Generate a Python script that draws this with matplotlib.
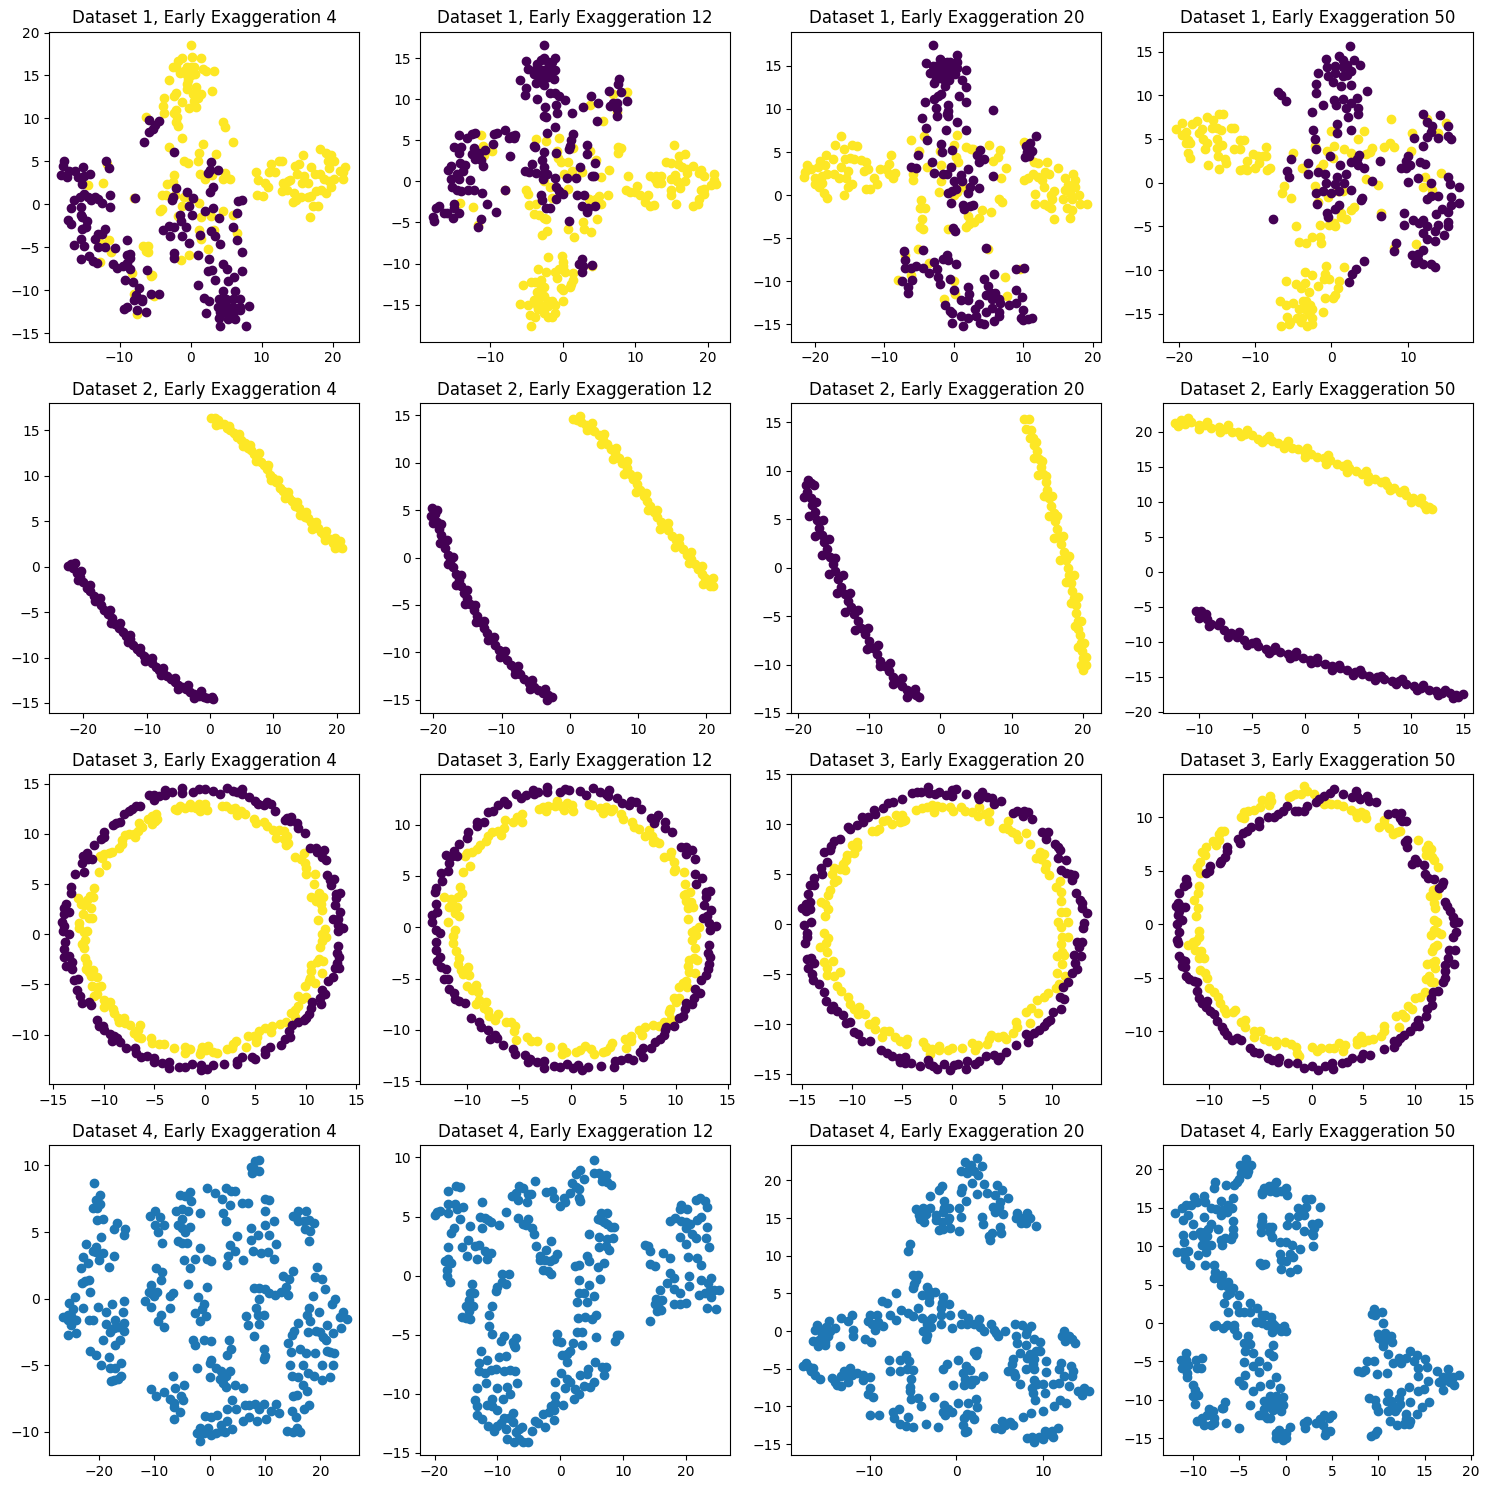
import matplotlib
matplotlib.use("Agg")
import matplotlib.pyplot as plt

exaggerations = [4, 12, 20, 50]
dark = "#440154"
yellow = "#fde725"

# t-SNE embeddings, dataset 1 (two noisy classes)
d1_e4_dark = [(-17.9,5),(-18,4.5),(-18.2,3.4),(-17.4,3.2),(-17.1,3.9),(-16.3,3.9),(-15.9,3.2),(-15,3.3),(-15.3,2.4),(-15.1,4.4),(-14.2,3.5),(-11.9,5.1),(-11.5,4.2),(-11.3,1.1),(-16.4,0.5),(-15.6,0.8),(-15,1.2),(-14.5,0.8),(-14,0.5),(-13.5,0.8),(-13,0.6),(-12.5,0.1),(-11.4,-0.3),(-16.9,-0.4),(-15.5,-0.3),(-15.4,-1.2),(-15.3,-1.5),(-14.6,-1.9),(-17.2,-1.8),(-16.8,-2.3),(-15.3,-2.9),(-14.8,-2.6),(-12,-2.9),(-13,-3.4),(-12.5,-3.5),(-13.5,-4),(-15.5,-4),(-16.4,-4.7),(-15,-4.8),(-13,-5),(-12,-5),(-10.6,-5.1),(-15.5,-6.4),(-14.3,-6),(-13.7,-6.6),(-13.2,-6.8),(-11,-6.9),(-10.3,-7.4),(-9.5,-7.2),(-8.9,-6.8),(-8.5,-7.5),(-8.9,-5.9),(-8.5,-5.8),(-8.6,-6.3),(-9,-4.1),(-9.3,-8.8),(-8.1,-9),(-7.3,-9.7),(-7.7,-10.6),(-8,-11.2),(-6.9,-11),(-6.8,-11.3),(-5.6,-10.5),(-4.5,-10.4),(-9.4,-12.2),(-9,-12),(-7.6,-12.3),(-6.3,-12.5),(-6.2,-7.7),(-7.9,0.7),(-6.5,7.3),(-5.9,8.4),(-5.3,8.8),(-5,9.2),(-4.5,9.7),(-5.9,9.8),(-2.3,6.1),(2.8,4.9),(2.7,4),(2.5,3.7),(3.8,4),(3.2,2),(2.7,1.4),(-2,1.9),(-2.5,0.9),(-2.6,0.5),(-0.5,1.4),(0.4,0.7),(-0.2,-0.2),(0.2,-1.2),(2,-0.8),(3.2,-0.4),(4,-1.6),(6.5,-1),(6.7,0.4),(7.2,0.5),(-1.5,-1.2),(-1.3,-2),(-0.7,-2.7),(-3.9,-3),(-3.1,-2.5),(-2.4,-2.6),(-2.9,-3.7),(-1.2,-3.7),(1.3,-3.6),(2.8,-3.1),(3.4,-3.7),(4.1,-4.6),(5.9,-2.7),(6.5,-4.2),(-0.2,-4.5),(7.2,-5.6),(1,-5.9),(2.6,-6.4),(-2.3,-5.7),(-2.3,-6.3),(4.5,-7),(5.1,-7.5),(2.5,-7.8),(3,-7.7),(3.5,-8.8),(5.3,-8.9),(6.1,-8.5),(7.3,-7.8),(1,-9.4),(1.9,-10.9),(2.6,-11.3),(2.1,-12.7),(4.6,-10.1),(6.3,-10.1),(4,-11),(5,-11),(6,-11),(7,-11),(3.8,-12),(4.5,-11.7),(5.2,-12),(6,-12),(7,-12),(8.2,-11.9),(4.2,-12.5),(5,-12.7),(6,-12.8),(7,-12.3),(4,-13.2),(5.3,-13.4),(6.2,-13.4),(4.2,-14.2),(7.8,-14.2)]
d1_e4_yellow = [(0.1,18.5),(-2,16),(-1.8,16.7),(-2.5,16),(-1.2,17),(0.2,17.2),(1.4,17),(-0.5,16),(0,16),(0.5,16),(-1,15.5),(-1.5,15.3),(-0.5,15),(0,15),(0.6,15.2),(1.7,15.7),(2.2,15.5),(3.3,15.5),(-3.1,14.5),(-0.5,14),(-0.3,14.5),(0.3,15.5),(-0.5,13.4),(0.7,13.7),(3,13.2),(1.5,12.9),(0.3,12.8),(-2,13),(-2.4,12.6),(-3.7,12.4),(0.5,12),(1,12.4),(-1.2,11.9),(-3.9,11.5),(-0.2,11.2),(0.8,11.3),(-2,11),(-3.8,10.6),(-2.3,10.6),(-1.9,10.2),(-2.1,9.6),(-1.8,9.1),(-6.3,10.2),(4.5,9.6),(4.8,9),(5.9,7.3),(-1.2,7.7),(1.8,7),(1.2,6),(-3,6.7),(3.6,5.8),(-1,5),(-0.4,4.8),(1,5.1),(1.3,3.5),(2,3),(3,3.4),(4.8,3.6),(5,3.2),(4.6,3),(5.6,2.9),(-3.3,2.4),(-2.5,2.6),(-2.3,3.4),(-4,1.1),(-3.5,1.1),(-2.2,1.1),(-4.1,-0.5),(-4.3,-0.8),(-0.9,0.9),(0,0.6),(1.2,0.2),(-1.2,-0.2),(-1.8,-1.4),(1.5,-1.5),(2.8,-1.4),(4.5,-0.8),(5.9,-1.2),(1.2,-3),(3.3,-3),(6.5,-3.3),(1.4,-4),(2.5,-5.2),(-0.2,-5.9),(-1.3,-6.5),(-6.7,-4.9),(-6,-4.9),(-6.3,-5.4),(-6,-5.6),(-5.5,-8.2),(-5.6,-8.3),(-8.3,-8),(-8,-10.5),(-5.1,-10.7),(-7.5,-12.8),(-12.7,-6.7),(-13,-4.3),(-11.5,-4.2),(-11.2,-5.5),(-12.3,-4.6),(-14.4,2.2),(-12.3,2.5),(-11.8,4.7),(-8,0.7),(16.8,-1.5),(9.2,3.8),(9.5,2.8),(11.3,4.7),(11,3.8),(11.9,3.8),(12.5,5.1),(12.9,5.1),(10.5,2.5),(10.9,2),(13,2.5),(13.7,2.7),(14,2.8),(9.3,1.1),(10.2,1),(12.9,1.5),(13.5,1.7),(14.6,1.3),(14.4,0.3),(14.8,0.5),(15.5,0.8),(16.5,0.8),(17.2,-0.2),(18,-0.2),(17.6,1.5),(18.3,1.7),(19,1.3),(17,1),(14.7,4.5),(15.3,4.7),(15.8,5.7),(15,3.5),(16,3.3),(16.5,2.5),(15.7,2.5),(17,4.3),(17.5,3.5),(18.2,3.5),(18.2,6.4),(19,6),(19.7,5.7),(19.3,5),(20.2,5),(19.5,4.2),(18.8,3),(19.5,2.7),(20.2,2.9),(19.8,2),(21,3.9),(21.7,4.4),(21.5,3.8),(21.5,3)]

d1_e12_dark = [(-2.5,16.6),(-5,14.6),(-4.8,13.7),(-3.5,14.3),(-3,14.8),(-2.5,15),(-2,14.5),(-1.5,14.5),(-1,15),(-3.8,13.5),(-3,13.5),(-2.5,13.5),(-2,13.5),(-1.5,13.5),(-1,13.5),(-4,13),(-3.3,12.7),(-2.5,12.5),(-2,12.7),(-1.2,12.5),(-5.9,12.3),(-3.7,12),(-2.5,11.7),(-5,11.4),(-5.2,10.5),(-3.5,10),(-1.7,10.7),(-1,10.8),(-0.5,10.4),(0.4,9.9),(-2.4,9),(-0.9,9.3),(-2.5,8),(-2.3,7.8),(-0.8,8.3),(1.3,8.3),(2.8,9.1),(3.9,10.4),(4.9,9.5),(6.4,11),(6.5,9.2),(7,9.5),(7.5,9.5),(7.7,11.9),(7.8,12.4),(8.1,10.9),(7.5,8.8),(7.5,7.9),(8.9,9.8),(4.8,7.4),(-1,6.6),(-2.2,5.9),(1.4,5.8),(1.1,5),(1,4.3),(0.9,3.9),(-4,4.3),(-3.8,4.2),(-2.5,3.6),(-0.9,3.4),(3.4,4.4),(3.3,3.3),(4.5,2.2),(-2.9,2.6),(-4.2,2.1),(-5.2,1.2),(-4.6,1.1),(-3.7,1),(-2.5,1),(-2.5,1.8),(-2.2,0.9),(-2.7,0.3),(-1,0.4),(0.6,0.4),(1.8,0.4),(2.4,1.8),(4.3,0.7),(4.1,0.7),(-0.9,-0.7),(-0.5,-1.2),(0,-1.5),(-3,-1.7),(-2.8,-2.3),(-2.3,-3.2),(-1.8,-3.2),(-0.9,-2.2),(2,-1.7),(2.9,-1.7),(2.7,-3),(3.4,-3.7),(4.4,-3),(0.9,-4.8),(3.5,-3.2),(-15.4,0.3),(-15.8,1.4),(-15.4,1.9),(-14.2,2.2),(-13.5,2),(-13.7,1.3),(-14.5,0.9),(-14.3,0.3),(-12.7,0.2),(-15.2,-0.7),(-14.5,-1.1),(-14,-1.2),(-13,-1),(-12.2,-1),(-11.1,-1.4),(-10.4,-2.7),(-9.2,-3.7),(-14.3,-3.8),(-15,-2.7),(-15,-3.3),(-15.9,-3.9),(-16.4,-3.8),(-17,-3),(-17.5,-3.3),(-17.8,-4.3),(-17.7,-4.8),(-15.1,-4.5),(-11.3,-4.6),(-11.6,-5.5),(-15,4.2),(-14.3,5.6),(-13.2,5.3),(-12.5,5.7),(-12,5.9),(-14,4.2),(-14.3,3.4),(-12.5,3.3),(-12.2,4),(-11.5,3.5),(-10.7,3.8),(-12,2.7),(-11.3,2.6),(-11,1.9),(-9.6,4.5),(-9.5,5.8),(-9,5.9),(-7.9,6.3),(-7,5.5),(-6.7,5.3),(-6.6,5.6),(-7.4,5.3),(-7.3,3.1),(-7.9,-1.1),(2.7,-9.5),(2.2,-10),(2.8,-10.3),(2.7,-11),(4,-10.2)]
d1_e12_yellow = [(-11.3,5.6),(-11,4.3),(-9.7,3.7),(-10.8,3.2),(-14.2,-2.6),(-12.4,-3.1),(-11.6,-5.3),(-7.9,-1),(3.8,9.3),(7,10.6),(8.9,10.9),(7.5,8.4),(5.5,7.3),(-3.6,5.2),(-2.3,4.9),(-0.5,5.3),(1.4,4),(3.8,3.7),(-0.8,3.7),(-0.7,2.9),(-0.2,2.3),(0.7,2.3),(4.6,2.6),(0.2,0.9),(1.3,1.3),(2.7,1.1),(6.4,1.4),(5.3,0.5),(-2.5,0.1),(-1.8,-0.7),(0.7,-0.9),(5,-1.8),(4.6,-2.2),(6.2,-1.7),(5.3,-2.7),(3.6,-2.2),(-1.4,-2),(-5,-1),(-4.7,-1.5),(-4.6,-2.9),(-3.7,-2.8),(-4,-4),(-3.3,-4.1),(-2.5,-4.4),(-2.3,-4.6),(4.8,-4.6),(2.8,-5),(3,-5.8),(3.9,-6.2),(0.7,-5.8),(-2.8,-6.5),(-2.2,-6),(1.6,-6.8),(7.6,4.2),(8,4),(7.7,3.4),(15.3,4.4),(9,0.7),(8.7,-1),(9.3,-1.3),(10.3,-0.6),(10,-1.3),(10.7,-1.7),(11.8,-1.7),(11.4,-2.5),(12.6,-2.9),(12,-3),(12.1,0.7),(12.7,0.3),(12.9,0.7),(13.6,0.7),(13,-0.2),(13.5,-0.2),(14.3,2.4),(15,2.2),(15.9,2.1),(16,3.1),(16.8,3.3),(16.4,1.8),(17.2,1.5),(18,1.9),(17.1,1),(15,0.3),(15.5,0.8),(15.7,0),(16.9,0),(16.2,-0.8),(14.9,-1.7),(15.6,-2.8),(15,-1),(18.8,1),(19.1,1.4),(19.5,0.7),(20.8,0.9),(20.8,0.2),(21.1,-0.3),(20.4,-0.4),(19,-1.1),(19.5,-1.5),(18.8,-2.2),(18,-3),(18.6,-2.7),(19.5,-0.9),(-2,-9.2),(-0.1,-9.1),(0,-9.8),(0,-10.3),(-0.5,-10.7),(-3.4,-10.7),(-2.3,-11),(1.5,-11.2),(1.5,-12),(1.2,-12.5),(-0.8,-11.8),(-5.5,-12.6),(-4.4,-12.3),(-3.8,-12.2),(-3,-12),(-3,-13),(-2.5,-12.8),(-0.2,-13),(0,-13.2),(1,-12.9),(-3.5,-13.5),(-5.8,-14.9),(-4.7,-15),(-4,-14.4),(-3.5,-14.5),(-3,-14),(-2.5,-14),(-2,-14.5),(-1.5,-14.5),(-1,-15),(0.1,-14.5),(-3.5,-15),(-3,-15),(-2.5,-15.5),(-2,-15.2),(-4.5,-16.2),(-3.8,-16.5),(-3.4,-15.5),(-2.5,-16),(-2,-16.5),(-1.5,-16.5),(-1,-16),(-4.4,-17.6),(4,-10.3),(0.3,-11),(-1,-11)]

d1_e20_dark = [(-3,17.4),(0.4,16.3),(-4,15.3),(-2,15.8),(-1.5,15.5),(-1,15.5),(-0.5,15.5),(0.4,15.5),(-3,15),(-2.5,15),(-2,15),(-1.5,15),(-1,15),(-0.5,15),(0.5,14.8),(1.8,14.5),(-3.4,14.2),(-2.6,14),(-2,14.2),(-1,14.2),(-0.3,14),(0.2,14),(-2.5,13.5),(-1.5,13.5),(-0.7,13.4),(1.2,13.3),(1.8,12.6),(-2.8,13),(-1.3,12.7),(0.7,11.5),(-1.8,11.7),(-2.3,11.5),(-2.8,11.2),(-4.1,10.8),(-2.6,10.1),(-0.9,10.5),(-0.9,9.8),(-2.4,9.2),(-1,9.4),(-0.8,9.2),(-4.6,9),(-4,7.8),(0.5,8.5),(1.8,10.8),(5.6,9.9),(-1.1,7.6),(1.8,7.6),(-3.8,6.4),(-1.9,5.9),(-1.7,5),(-0.2,5.2),(-5.1,4.6),(-3.1,3.8),(-2.9,2.6),(-6.1,3.3),(-5.5,3.1),(-0.4,3.3),(-1.6,2.5),(-1,2.4),(1,2.3),(2,3),(1.2,1.6),(0,1.6),(2.7,1.7),(2.3,1),(3.7,0.8),(-0.3,0.5),(-0.8,0.2),(0.3,0.7),(2,0.3),(-0.4,-0.9),(1.3,-1.2),(1.5,-1.6),(2.3,-1.3),(2.8,-1.2),(3.8,5.2),(3.4,4.7),(4.3,4.2),(3.7,3.9),(5.6,2.2),(-0.1,-3.8),(0.2,-4.2),(10.4,5.7),(11,6),(11.9,6.9),(10.6,5),(11.2,5.1),(10.3,4.4),(10.9,4.5),(4.7,-6.1),(-7.2,-6.5),(-7,-7.5),(-4.4,-6.4),(-7,-8.4),(-6.2,-8.5),(-5.5,-8.2),(-4.5,-8.4),(-3.6,-9),(-2.4,-8.6),(-2.8,-7.7),(-1.5,-7.4),(-1,-7),(-0.9,-7.5),(0.3,-8),(-2.3,-9.5),(-2,-10.3),(-0.6,-9.7),(-7.4,-10),(-6,-9.8),(-6.6,-10.7),(-6.6,-11.4),(0,-11),(2,-10.7),(2.2,-11.5),(2,-12.2),(1,-12.2),(4.3,-9.7),(5.8,-9.2),(9,-8.6),(10.1,-8.5),(4.9,-10.5),(5.3,-11.3),(4.6,-11.6),(6,-11.3),(5.5,-12),(6.5,-12),(6.7,-12.5),(8.9,-11),(9.9,-11.8),(8,-12.7),(9,-12.5),(-1.3,-12.7),(-0.6,-13.4),(-0.3,-13.7),(1.1,-14),(2,-14.2),(3.2,-14),(3,-13.2),(3.7,-12.6),(4.6,-13.5),(5.5,-13.1),(6.5,-13.5),(6.5,-14),(10,-13.3),(9.7,-14.3),(10,-14.5),(10.7,-14.4),(11.2,-14.2),(-0.3,-14.8),(1.4,-15.2),(3.8,-14.8),(4.4,-14.9),(5.8,-14.6)]
d1_e20_yellow = [(-16.2,6.9),(-17.1,5.8),(-15.8,5.3),(-14.7,5.8),(-14,5.7),(-18.4,4.7),(-19.3,4),(-21.1,3.5),(-21.4,2.7),(-21.5,2.1),(-20.5,3),(-19.5,3.3),(-18.5,3.5),(-18.2,2.5),(-19,2.2),(-20,2),(-20,1.3),(-19.4,1),(-19,1.4),(-18.7,0.3),(-18.2,-0.3),(-17.3,2.5),(-16.5,2),(-16.3,3.3),(-17.4,4.2),(-15.7,4.2),(-15,4.3),(-14.3,4.2),(-13.3,4.1),(-12.7,3.9),(-13,2.8),(-12.3,3),(-15.3,2.8),(-15.5,2),(-15.2,1),(-14.6,1.3),(-15.8,0),(-12.6,0.7),(-12,0.7),(-11.5,2),(-11,1.3),(-10.6,3),(-9.7,3),(-9.3,3.6),(-9,4.7),(-9.3,2.5),(-8.8,2),(-8.4,2.6),(-6.2,6.4),(-4.3,6.9),(-5,5.1),(-5.8,2.5),(-5.8,1.8),(-3.8,3.3),(-2,5.1),(0.1,5.8),(0.5,7),(-1.8,3.5),(-1.9,1.6),(-2.1,0.4),(0.3,4.4),(0.6,3.9),(1.8,5.6),(2.5,5.3),(2.8,5.4),(5.1,5.8),(6.7,5.2),(6.3,4.4),(5.7,4),(7.5,3.1),(6.8,2),(1.3,1),(0.5,0.4),(0,0),(-4.7,-0.6),(-4.9,-1.5),(-4.1,-1.5),(-4.6,-2.8),(-4.9,-3.7),(-4.4,-3.9),(-0.9,-3.9),(1.7,-3.7),(2.2,-3.3),(2,-2.4),(2.9,-3.1),(3.7,-2.6),(4,-1.7),(5.4,-1.9),(6.5,-0.5),(6.9,-0.8),(-5.2,-6.2),(-7,-7),(-3.5,-7.9),(-6.2,-9.3),(-8,-9.9),(5,-6.2),(0,-10),(0.2,-11.5),(-1.4,-12),(7.4,-9.5),(7.7,-11.7),(9.5,-8.6),(10.1,6.2),(11.6,3.8),(12.2,3.7),(13.4,3.8),(13.2,2.7),(13.7,2.4),(15,3.1),(10.1,1.7),(10.7,2),(11.4,2.4),(12.2,2.1),(12.7,1.7),(13,1),(11.7,0.1),(11.7,-1),(13,-1),(14,0),(14.5,0.5),(14.2,-0.5),(13.6,-1.3),(14,-1.5),(14.4,-2.8),(16,2),(17.2,2.5),(17.5,1.7),(16.5,1.2),(17.5,1),(16,0.6),(16.7,0.2),(18,0),(15.7,-0.5),(17,-0.5),(18.2,-1),(16.3,-1.5),(17,-1.7),(19.2,-1),(16.7,-2.7)]

d1_e50_dark = [(2.4,15.7),(-0.7,14.1),(1,14.5),(1.5,14),(3,14),(3.7,13.5),(-0.6,13.2),(0.5,13.3),(1.5,13.2),(2,13.5),(2.5,12.8),(-1.7,12.5),(-0.5,12.2),(0.5,12.5),(1.5,12.2),(2,12.3),(0.2,11.5),(1.3,11.1),(2.5,11.2),(-2,11.3),(-2,10.3),(4.6,10.5),(-7,10.4),(-6.6,10),(-6,9.4),(0.3,9.5),(0.6,8.9),(1.5,9.6),(3.4,9.7),(2.6,9.1),(-1.1,8.9),(1.9,8.5),(3.5,8.5),(3.5,7.9),(2.2,7.5),(-2.6,8.1),(0.7,6.7),(0.7,5.7),(2.5,6),(-2.4,6),(-2.2,5),(-2,3.9),(-5.3,2.7),(-3.1,2.2),(3.6,3.2),(3.3,2.7),(2.5,2.4),(3.5,2),(4.3,1.7),(6.3,2.5),(1.1,2),(-0.2,3),(-5.8,1.3),(-5.6,0.7),(-3.1,1),(-1.7,1.2),(-0.9,1),(-0.7,0),(0.7,0.6),(0.5,-0.2),(1.9,1),(1.6,0),(-1.1,-1),(-2,-1.2),(0,-1.2),(1,-0.9),(2.5,-0.8),(-1.9,-2.4),(0.5,-3),(1,-2.6),(-0.6,-3.5),(-0.5,-3.9),(3.9,-2),(4,-1.8),(5.3,0.2),(6.5,-3.8),(-7.7,-4.2),(4.2,-9),(3.2,-9.9),(2.7,-10.4),(2.3,-11.4),(12,7.9),(14.2,7.7),(12.5,6.9),(13.2,6.5),(15.2,6.5),(13,5.8),(12.5,5.2),(14,5.1),(15.3,5.3),(15.7,5),(10.8,5.1),(12,4.2),(9.7,2.5),(10,3),(9.1,1.7),(9.7,1.7),(10.3,2),(11.6,2.4),(12.3,2.1),(11.3,0.5),(10,0.1),(13,0),(15.2,0.7),(15.5,-0.2),(16.7,-0.5),(12.5,-1.9),(13,-1.5),(14,-1.5),(15.6,-1.6),(16.7,-2.3),(15.6,-2.5),(14.5,-3),(15.2,-3.4),(13.7,-3.6),(9.5,-3.5),(9.5,-4.9),(10.7,-4.3),(12,-4.3),(11.5,-4.6),(12.5,-5),(14,-4.8),(15.3,-4.5),(15.3,-5),(13.5,-5.5),(12,-5.8),(12.5,-6.4),(13.5,-6.7),(14.7,-6),(8.4,-6.9),(8.2,-7.8),(10.5,-8.3),(11.4,-8.2),(12,-7.7),(11,-9.2),(12,-9.3),(13.1,-9.3),(13.6,-9.6),(11.3,-8.8)]
d1_e50_yellow = [(-20.3,6.2),(-19.6,6.8),(-19.6,5.5),(-19,5.8),(-18.2,6.7),(-17.6,7.1),(-17,6.2),(-16.3,7.5),(-15.5,7.2),(-14.7,7.9),(-14.2,7.9),(-15.7,6.3),(-15,6.3),(-14.5,6),(-13.2,6.3),(-12.8,6.3),(-17.3,5.7),(-16.8,5),(-18.8,4.9),(-19,4.5),(-18.5,4.5),(-16.3,4.5),(-16.5,3.8),(-15,5),(-15,4),(-14.3,4.3),(-14.8,3),(-14,2.7),(-13.8,2.3),(-18.8,3.4),(-18.5,2.8),(-16.2,2),(-14.7,1.6),(-12.8,3.9),(-12,3.8),(-12,4.9),(-11.4,4.9),(-11,2.5),(-10.3,3.3),(-9.6,3),(-9,3),(-9.5,2.2),(-8.6,3),(-8.6,4.1),(-12,1.5),(-11.4,1.6),(-11,1.5),(-10,1.7),(-8.5,1.5),(-8,1.7),(-5,3.4),(-1.1,2.1),(-1.5,1.7),(-3.9,1.7),(-2.1,4.2),(-6.5,-1.2),(-6.2,-0.4),(-5.3,-1.8),(-2.2,-0.4),(-1.8,-2.2),(-0.4,-1.6),(-4.6,-5),(-1.5,-4.9),(-0.3,-4.8),(0.5,-5),(0.3,-4.6),(1.2,-3.9),(1.9,-4.2),(1.2,-3.5),(2.5,-3.1),(3,-2.8),(-4.3,-6.8),(-3.3,-6.9),(-2.6,-6.2),(-1.5,-6.2),(-1.4,-6.9),(-0.6,3.6),(0,5.9),(0.4,4.2),(0.2,2.8),(1.7,3.8),(2.5,3.4),(3.5,5),(4.2,5.9),(4.5,3.3),(5,3.5),(5.3,4),(6.9,4.1),(7.7,4.5),(8.2,4.1),(7.8,7.3),(10.6,5.7),(10.4,3.6),(4.5,0.4),(6.1,-0.3),(6.5,-3.5),(0.9,-1),(1.5,-0.9),(12.5,7.3),(15,6.8),(13.9,5.7),(12.2,0.7),(14.3,1.1),(12,-0.5),(13.2,-0.8),(11.1,-7),(8.2,-7.5),(1.6,-9.7),(-0.7,-9.5),(-0.8,-10.5),(-3.5,-10.2),(-2.5,-10.6),(-1,-11),(-0.3,-11),(-6,-11.3),(-4.6,-11.6),(-4,-12),(-3.5,-11.5),(-3,-12.5),(-1.8,-11.8),(1,-11.3),(0.8,-12),(0.5,-12.8),(-0.8,-13.2),(0.2,-13.2),(-6.8,-13.5),(-5.9,-14),(-5,-13.8),(-3.7,-13.5),(-3.3,-13.5),(-2.8,-14),(-4.2,-14.5),(-3.5,-14.5),(-2.5,-14.5),(-1.1,-14.8),(-5.8,-15.4),(-5.4,-16),(-4.5,-15.5),(-3.8,-15.5),(-3,-15),(-2.5,-15.5),(-6.6,-16.4),(-5.5,-16.2),(-4,-16),(-3.2,-16.4),(-2.5,-16.2)]

# dataset 2 (two separated strands)
d2_e4_dark = [(-22.4,0.1),(-22,0.3),(-21.6,-0.2),(-21,-0.7),(-20.5,-1.1),(-20,-1.7),(-19.4,-2.3),(-18.9,-2.7),(-18.4,-3.2),(-17.8,-3.7),(-17.2,-4.2),(-16.7,-4.8),(-16.1,-5.2),(-15.5,-5.7),(-15,-6.3),(-14.4,-6.7),(-13.8,-7.2),(-13.2,-7.6),(-12.7,-8),(-12.1,-8.6),(-11.5,-9.1),(-11,-9.4),(-10.4,-9.8),(-9.8,-10.2),(-9.2,-10.6),(-8.6,-11),(-8,-11.4),(-7.4,-11.7),(-6.8,-12),(-6.2,-12.4),(-5.6,-12.7),(-5,-13),(-4.4,-13.2),(-3.8,-13.5),(-3.1,-13.8),(-2.5,-14),(-1.8,-14.2),(-1,-14.3),(-0.4,-14.5),(0.3,-14.3),(0.4,-14.6),(-21.4,0.4),(-20.4,-0.5),(-19,-2),(-17.4,-3.4),(-15.8,-4.8),(-14.2,-6.2),(-12.6,-7.5),(-11,-8.9),(-9.2,-10.1),(-7.5,-11.1),(-5.5,-12.2),(-3.5,-13),(-1.5,-13.7),(-20.8,-1.5),(-18.2,-3.8),(-15.6,-6.2),(-13,-8.3),(-10.2,-10.4),(-7.8,-11.9),(-5,-13.5),(-2.5,-14.5)]
d2_e4_yellow = [(0.2,16.3),(0.8,16.3),(1.3,16.1),(1.6,15.7),(2.2,15.7),(2.7,15.2),(3.2,15),(3.8,14.7),(4.3,14.3),(4.9,13.9),(5.5,13.6),(6,13.1),(6.5,12.8),(7,12.4),(7.5,12),(8,11.5),(8.5,11.2),(9,10.7),(9.5,10.1),(10,9.7),(10.5,9.3),(11,8.7),(11.5,8.3),(12,8),(12.5,7.5),(13,7.2),(13.5,6.7),(14,6.4),(14.5,5.9),(15,5.5),(15.5,5.3),(16,4.9),(16.5,4.5),(17,4.2),(17.5,3.8),(18,3.5),(18.5,3.2),(19,3),(19.5,2.6),(20,2.6),(20.4,2.2),(20.8,2.1),(20.6,2.8),(1,15.6),(3,15.5),(4.6,14.6),(6.3,13.4),(7.7,12.5),(9.2,11.2),(10.8,9.5),(12.3,8.2),(13.7,7.1),(15.2,6),(16.8,4.9),(18.3,3.9),(19.7,3.1),(5.2,13.3),(7.3,11.6),(9.7,9.5),(11.8,7.6),(14.2,5.7),(16.2,4.1),(18.2,2.9),(19.8,2)]
d2_e12_dark = [(-20.2,5.2),(-20.3,4.4),(-19.8,4.6),(-19.5,3.7),(-19.2,3),(-18.9,2.4),(-18.6,1.7),(-18.3,1),(-17.9,0.3),(-17.5,-0.4),(-17.1,-1),(-16.7,-1.7),(-16.3,-2.4),(-15.9,-3),(-15.5,-3.7),(-15.1,-4.3),(-14.6,-4.9),(-14.1,-5.5),(-13.6,-6.2),(-13.1,-6.8),(-12.6,-7.4),(-12.1,-8),(-11.5,-8.6),(-11,-9.2),(-10.4,-9.8),(-9.8,-10.3),(-9.2,-10.8),(-8.6,-11.3),(-8,-11.8),(-7.3,-12.3),(-6.7,-12.8),(-6,-13.2),(-5.3,-13.7),(-4.6,-14),(-3.9,-14.3),(-3.2,-14.5),(-2.6,-14.7),(-19.4,5),(-18.9,3.5),(-18,1.8),(-17.1,0.1),(-16,-1.8),(-15,-3.4),(-13.9,-5),(-12.6,-6.7),(-11.1,-8.4),(-9.5,-9.9),(-7.6,-11.4),(-5.5,-12.9),(-3.6,-13.9),(-20,3.6),(-19,1.5),(-17.9,-0.7),(-16.7,-2.9),(-15.4,-4.9),(-13.8,-6.8),(-12,-8.7),(-10.2,-10.5),(-8,-12.3),(-5.8,-13.9),(-3.4,-15)]
d2_e12_yellow = [(0.5,14.6),(1.1,14.5),(1.7,14.3),(2.4,14),(3,13.6),(3.6,13.3),(4.2,12.9),(4.8,12.4),(5.4,12),(6,11.4),(6.6,11),(7.2,10.5),(7.7,10),(8.3,9.4),(8.8,8.8),(9.3,8.3),(9.8,7.8),(10.3,7.1),(10.8,6.5),(11.3,6),(11.8,5.4),(12.3,4.8),(12.8,4.3),(13.3,3.8),(13.8,3.3),(14.4,2.9),(14.9,2.3),(15.5,1.9),(16,1.4),(16.6,0.9),(17.2,0.3),(17.8,-0.2),(18.3,-0.7),(18.8,-1.2),(19.3,-1.7),(19.8,-2.2),(20.4,-2.4),(20.9,-2.2),(20.5,-3),(21,-3),(1.5,14.9),(3.3,14.2),(5,13),(6.8,11.6),(8.3,10.2),(9.8,8.6),(11.2,6.8),(12.8,5),(14.4,3.6),(16,2.1),(17.8,0.6),(19.3,-0.9),(2.5,13.4),(4.5,12),(6.3,10.4),(8,8.8),(9.7,6.9),(11.4,5),(13.2,3),(15.4,1.1),(17.4,-0.6),(19.5,-2.8)]
d2_e20_dark = [(-18.5,9),(-18.8,8.5),(-18.2,8.7),(-18.7,7.8),(-18.2,7.2),(-18,6.4),(-17.6,5.7),(-17.3,4.9),(-17,4.1),(-16.6,3.4),(-16.3,2.6),(-15.9,1.9),(-15.5,1.1),(-15.1,0.4),(-14.7,-0.4),(-14.3,-1.2),(-13.9,-2),(-13.4,-2.7),(-13,-3.4),(-12.5,-4.1),(-12.1,-4.8),(-11.6,-5.5),(-11.1,-6.2),(-10.6,-6.9),(-10,-7.6),(-9.5,-8.3),(-8.9,-8.9),(-8.4,-9.6),(-7.8,-10.2),(-7.2,-10.7),(-6.6,-11.3),(-6,-11.8),(-5.4,-12.2),(-4.7,-12.6),(-4,-12.9),(-3.4,-13.1),(-3,-13.4),(-17.7,8.5),(-17.4,6.8),(-16.5,4.9),(-15.6,2.9),(-14.7,1),(-13.7,-0.8),(-12.7,-2.6),(-11.5,-4.4),(-10.2,-6.2),(-8.8,-8),(-7.1,-9.8),(-5.4,-11.4),(-3.6,-12.5),(-19.1,7.3),(-18.4,5.3),(-17.6,3.3),(-16.6,1.3),(-15.6,-0.7),(-14.5,-2.6),(-13.3,-4.6),(-11.9,-6.4),(-10.3,-8.4),(-8.5,-10.2),(-6.6,-12),(-4.7,-13.3)]
d2_e20_yellow = [(11.8,15.3),(12.5,15.3),(12,14.3),(12.7,14.2),(13,13.4),(13.2,12.6),(13.6,12),(13.8,11.2),(14.1,10.4),(14.4,9.6),(14.8,8.8),(15,8),(15.3,7.2),(15.6,6.3),(15.9,5.6),(16.1,4.8),(16.4,4),(16.7,3.2),(17,2.4),(17.3,1.6),(17.6,0.8),(17.9,0),(18.1,-0.8),(18.3,-1.6),(18.5,-2.4),(18.8,-3.1),(19,-3.9),(19.1,-4.7),(19.3,-5.5),(19.4,-6.3),(19.6,-7),(19.8,-7.8),(19.9,-8.6),(20.1,-9.3),(19.8,-10),(20.4,-10),(20.1,-10.6),(12.6,13.4),(13.5,12.9),(14.3,11),(14.9,9.4),(15.7,7.4),(16.4,5.3),(17.2,3.3),(18,1.2),(18.7,-0.8),(19.4,-3),(19.8,-5.5),(20.2,-7.8),(13.1,11.3),(13.7,9.5),(14.5,7.4),(15.2,5.3),(16,3),(16.8,0.8),(17.6,-1.5),(18.4,-3.7),(18.9,-6),(19.4,-8.2),(20.5,-9.2)]
d2_e50_dark = [(-10.3,-5.6),(-9.8,-5.6),(-9.8,-6.3),(-9.2,-6.8),(-8.8,-7.5),(-8.2,-7.7),(-7.6,-8.4),(-7,-8.8),(-6.4,-9.3),(-5.7,-9.8),(-5,-10.2),(-4.4,-10.7),(-3.7,-11),(-3,-11.2),(-2.3,-11.5),(-1.6,-11.8),(-0.9,-12),(-0.2,-12.3),(0.5,-12.6),(1.2,-12.9),(1.9,-13.2),(2.6,-13.5),(3.3,-13.8),(4,-14),(4.7,-14.3),(5.4,-14.6),(6.1,-14.9),(6.8,-15.1),(7.5,-15.3),(8.2,-15.6),(8.9,-15.7),(9.6,-16),(10.3,-16.3),(11,-16.6),(11.7,-16.9),(12.4,-17.1),(13,-17.4),(13.7,-17.3),(14.3,-17.6),(14.9,-17.5),(14.5,-17.9),(-9.3,-6),(-8,-7.2),(-6.2,-8.7),(-4.6,-10),(-2.8,-10.8),(-0.8,-11.5),(1.2,-12.4),(3.2,-13.3),(5.2,-14.1),(7.2,-14.9),(9.2,-15.4),(11.2,-16.2),(13.2,-16.9),(-10,-6.6),(-9,-7.8),(-7.2,-9.3),(-5.4,-10.5),(-3.4,-11.6),(-1.4,-12.3),(0.6,-13.1),(2.6,-14),(4.6,-14.8),(6.6,-15.5),(8.6,-16.1),(10.6,-16.9),(12.6,-17.6),(14,-18)]
d2_e50_yellow = [(-12.2,21.2),(-11.7,21.6),(-11.3,21),(-10.7,21.4),(-10,20.9),(-9.4,20.9),(-8.8,20.5),(-8.1,20.7),(-7.5,20.4),(-6.9,20),(-6.3,20),(-5.6,19.7),(-5,19.5),(-4.4,19),(-3.7,18.9),(-3.1,18.6),(-2.5,18.3),(-1.8,18.2),(-1.2,17.7),(-0.6,17.5),(0,17),(0.6,16.8),(1.2,16.4),(1.8,16.2),(2.4,15.9),(3,15.4),(3.6,15.1),(4.2,14.8),(4.8,14.4),(5.4,14),(6,13.6),(6.6,13.2),(7.2,12.8),(7.8,12.3),(8.4,11.9),(9,11.4),(9.6,10.9),(10.2,10.5),(10.8,10),(11.3,9.5),(11.7,9.2),(11.4,9),(-11,21.9),(-9.2,21.3),(-7.2,20.9),(-5.4,20.2),(-3.4,19.4),(-1.6,18.7),(0.2,17.7),(2.2,16.6),(4,15.4),(5.8,14.3),(7.6,13),(9.4,11.6),(11,10.5),(-12,20.8),(-10,20.4),(-8,20),(-6,19.3),(-4,18.5),(-2,17.6),(0,16.4),(2,15.4),(4,14.2),(6,13),(8,11.6),(10,10),(12,8.9)]

# dataset 3 (two concentric rings)
d3_e4_dark = [(-5.5,13.9),(-5,13.9),(-5,13.4),(-4.5,13.8),(-3.9,14.4),(-3.9,13.9),(-3.2,14.2),(-2.3,14.6),(-2.3,14.1),(-1.2,14.2),(-0.6,14.5),(0,14.5),(0.8,14.3),(1.5,14),(2.2,14.6),(2.8,14.3),(3.2,14.2),(3.7,14),(3.7,14.5),(4.4,13.7),(5,13.3),(5.3,13),(5.9,12.9),(6.2,13.2),(6.6,13),(7,12.3),(7.9,11.4),(8.1,11.6),(8.4,11.3),(8.5,11.7),(9.1,11.1),(9.2,10.6),(9.9,10.1),(10.4,8.6),(11,8.6),(11.1,8.2),(11.6,7.7),(11.8,8.4),(12,7.4),(12.1,5.9),(12.4,5.4),(12.8,5.5),(12.5,4.9),(13,4),(13.4,4.1),(13,3.6),(12.9,2.9),(13.4,2.2),(12.7,1.5),(13.2,1.5),(13.2,0.9),(13.7,0.6),(13.2,0.3),(13.2,-1.2),(13.1,-1.9),(13.3,-2.3),(13.1,-2.9),(13.3,-3.4),(12.9,-3.4),(12.7,-4.3),(12.2,-4.7),(11.6,-5.6),(11.9,-6),(11.4,-6.4),(11.5,-7),(10.6,-6.8),(10.5,-7.4),(10.3,-8),(10,-8.3),(9.8,-8.5),(9.2,-8.7),(8.6,-9),(8.3,-9.6),(8.4,-10.2),(7.9,-10.4),(7.5,-11),(6.5,-11.2),(6,-11.5),(6,-11.9),(5,-12.4),(4.7,-12.2),(3.7,-12.2),(3.2,-12.6),(3.2,-12.9),(1.9,-12.9),(0.8,-13),(0.2,-13.4),(-0.4,-13),(-0.4,-13.5),(-1.3,-12.9),(-2,-13.2),(-2.6,-13.2),(-3.5,-12.7),(-3.5,-13.3),(-4.2,-12.8),(-5,-12.7),(-5,-12.3),(-5.7,-12.1),(-6.3,-12.2),(-6.8,-11.8),(-6.9,-11.3),(-7.8,-11.3),(-8.4,-10.7),(-8.7,-10.3),(-9,-10.1),(-9.2,-10.6),(-9.4,-9.9),(-10,-9.5),(-10.5,-9.1),(-10.7,-8.5),(-10.1,-9.1),(-11.3,-7.1),(-11.5,-6.8),(-12.2,-6.9),(-12.4,-6.2),(-12.7,-5.6),(-13,-4.6),(-12.6,-4.5),(-13.2,-3.5),(-13.7,-3.2),(-13.2,-2.8),(-13.9,-2.3),(-13.4,-2.2),(-13.9,-1.5),(-13.8,-0.8),(-13.4,0),(-14,0.3),(-13.9,0.8),(-14.1,1.2),(-13.9,2),(-13.4,2.2),(-13.9,2.6),(-13.7,3),(-13.3,4.1),(-13.3,4.7),(-12.9,6),(-12,6.2),(-12.2,7.1),(-12.1,7.8),(-11.7,8.1),(-11.6,7.5),(-11.2,7.5),(-11,8.9),(-10.3,9.5),(-10,9.7),(-10,10.2),(-9.1,10.9),(-8.8,11.1),(-8.4,11.2),(-8,12),(-7.5,12.3),(-7.2,12.5),(-6.8,12.8),(-6.4,12.8)]
d3_e4_yellow = [(-3,12.5),(-2.8,12.4),(-2.5,12.8),(-2,12.6),(-1.5,13),(-1.4,12.7),(-0.9,12.6),(-0.6,13),(-0.5,12.3),(0,13),(0.2,12.4),(1.7,12.8),(2.1,12.8),(2.6,12.5),(3,12.6),(3.2,11.9),(3.6,12.3),(4,12),(4.9,11.5),(5.1,11.1),(5.9,11.2),(6.2,10.8),(6.8,10.4),(7.3,10.4),(7.1,9.6),(7.8,10.3),(7.8,9.5),(8.1,9.8),(8.2,9.1),(8,8.9),(8.9,7.7),(9.8,8.1),(9.5,7.5),(9.9,7.1),(10,6.6),(10,6),(10.9,6),(10.8,5),(10.5,3.7),(11.2,3.8),(11.3,4.1),(11.7,3.7),(11,3.3),(11.5,3),(11.6,2.4),(11.2,1.4),(11.9,0.5),(11.6,0),(12,-0.3),(11.6,-0.7),(11.4,-1.3),(11.3,-2.5),(11.1,-2.8),(11.7,-2.7),(10.5,-3.1),(10.5,-3.7),(11.6,-3.9),(10.4,-4.4),(10.3,-4.7),(9.9,-5.2),(10.9,-4.9),(9.2,-6.2),(10,-6.3),(9.6,-6.5),(9.2,-7.2),(8.9,-7.6),(8.5,-7.9),(8.9,-8.2),(8,-8.7),(7.4,-8.9),(6.7,-9.1),(6.6,-9.7),(6,-9.3),(5.4,-9.6),(5.2,-10.2),(4.9,-10.1),(4.3,-10.1),(5.1,-10.7),(4.1,-11.2),(3.1,-10.6),(2.8,-10.9),(2.7,-11.3),(2.2,-11.4),(1.2,-11.8),(0.8,-11.7),(0.3,-11.1),(-0.3,-11.2),(-0.4,-11.6),(-0.5,-11.9),(0.1,-11.5),(-2,-11.2),(-2,-11.8),(-1.5,-11.4),(-3.1,-11.3),(-4,-10.9),(-4.5,-10.9),(-5.2,-10.8),(-5.3,-10.3),(-6.3,-10.3),(-6.6,-9.5),(-6.6,-10.2),(-6.8,-9.9),(-7,-9.8),(-6.4,-9),(-7.4,-9),(-7.9,-8.8),(-8,-8.3),(-8.5,-8.7),(-8.6,-8.3),(-9,-7.9),(-9.1,-7.5),(-9.5,-7),(-10,-7.3),(-9.4,-6.8),(-10,-6.6),(-10.6,-5.3),(-10.7,-6),(-11,-6.2),(-10.3,-5.2),(-11.2,-5.2),(-10.7,-4.3),(-11.3,-4.2),(-11.5,-3.8),(-11.1,-3.6),(-11.8,-3.5),(-11.7,-2.9),(-11.9,-2.4),(-12,-1.4),(-12.2,-1),(-11.9,-0.6),(-12,0.2),(-11.7,0.3),(-12.5,1.1),(-12.5,0.6),(-12.1,2),(-11.3,2.6),(-11.5,1.6),(-11.2,1.6),(-12,2.9),(-12.6,3.6),(-12.3,3),(-11.7,3.4),(-11.4,3.8),(-11.1,3.7),(-11,4.6),(-10.5,6.2),(-9.8,6.9),(-10.2,7.6),(-10.4,7.8),(-10,8),(-9.5,8.1),(-9.2,8.2),(-8.5,8.6),(-8.2,9),(-8.2,9.4),(-7.9,9.9),(-7.5,10),(-7,10),(-6.9,9.7),(-6.6,10.3),(-6.2,10.7),(-5.2,11),(-6.5,11.1),(-5.6,11.5),(-5.2,11.8),(-4.9,11.3),(-4.8,12),(-4.7,11.5)]

d3_e12_dark = [(-5.3,13),(-4.8,12.6),(-4.4,12.9),(-3.7,13.4),(-3.6,13),(-3.2,13.2),(-2.3,13.7),(-2.3,13.2),(-1.1,13.2),(-0.6,13.5),(-0.2,13.4),(0.8,13.3),(1.4,12.9),(2.1,13.6),(2.7,13.2),(3.3,13),(3.6,13.4),(3.5,12.8),(4.4,12.6),(4.9,12.1),(5.5,11.9),(5.7,12.3),(6.2,12.2),(6.7,11.5),(7.6,10.6),(8,10.5),(8.3,10.9),(7.9,10.2),(9,10.3),(9,9.7),(9.7,9.3),(10.5,7.8),(11,7.8),(11,7.1),(11.6,7.5),(11.9,6.6),(11.9,5.2),(12.5,4.8),(12,4.2),(12.9,3.4),(13.3,3.5),(12.9,2.9),(12.7,2.2),(13.4,1.7),(12.6,0.9),(13,1.1),(13.2,0.4),(13.9,0.1),(13.3,-0.3),(13.2,-1.7),(13.1,-2.5),(13.3,-2.9),(13.2,-3.6),(13.1,-4.1),(12.9,-4.7),(12.4,-5.1),(11.9,-6),(12.3,-6.4),(11.8,-6.9),(11.6,-7.5),(11,-7.4),(10.9,-8),(10.7,-8.6),(10.3,-8.8),(9.8,-9.6),(9.1,-9.7),(9,-10),(8.9,-10.5),(8.5,-10.9),(8,-11.2),(7.6,-11.8),(6.9,-11.8),(6.6,-12.2),(6.9,-12.6),(5.9,-12.9),(5.4,-12.7),(4.8,-12.9),(4.2,-13),(4.1,-13.6),(2.8,-13.5),(1.6,-13.6),(1,-13.9),(0.6,-13.4),(0.2,-13.7),(-0.4,-13.3),(-1.1,-13.6),(-1.7,-13.5),(-2.6,-13),(-2.6,-13.7),(-3.3,-13.1),(-4,-12.8),(-4.2,-13.1),(-4.5,-12.4),(-5.4,-12.3),(-5.6,-11.9),(-6.6,-11.5),(-7.1,-10.8),(-7.3,-10.5),(-7.8,-10.9),(-8,-10),(-8.7,-9.7),(-8.9,-9.2),(-9.6,-8.8),(-10.2,-7.4),(-10.8,-7.2),(-11.2,-7),(-11.3,-6.4),(-11.7,-6),(-11.8,-5),(-12.2,-5),(-12,-4.1),(-12.5,-3.9),(-12.9,-3.3),(-12.6,-2.9),(-13,-2.2),(-13,-1.4),(-12.6,-0.6),(-13,-0.3),(-13.4,0.5),(-13.4,1.2),(-12.9,1.5),(-13,2.3),(-13.1,3.4),(-13,3.8),(-12.4,4.5),(-12.5,5.3),(-11.8,5.5),(-11.7,6.3),(-12,7),(-11.5,6.9),(-11.3,7.4),(-11,6.9),(-10.8,8.1),(-10,8.7),(-9.9,9.3),(-9.1,9.9),(-9.1,10.3),(-8.4,10.3),(-8,11.2),(-7.5,11.3),(-7,11.9),(-6.5,12.3),(-6.2,12)]
d3_e12_yellow = [(-3.1,11.5),(-2.7,11.7),(-2.4,11.3),(-2.2,11.8),(-1.6,11.8),(-1.4,12.3),(-1,11.8),(-0.7,11.4),(-0.4,12.1),(0.1,11.9),(0.2,11.3),(1.7,12),(2,11.9),(2.7,11.6),(3,11.1),(3.3,11.7),(3.8,11.3),(4,11.5),(4.8,11),(5,10.5),(5.8,10.3),(6,9.8),(6.5,9.6),(7.4,9.5),(7.1,8.9),(7.7,8.9),(7.8,8.3),(8,8.4),(8.4,8.2),(8.9,6.8),(9.6,7.3),(9.5,6.9),(9.8,6.4),(9.9,5.7),(10.8,5.4),(9.8,5.5),(10.9,4.2),(10.8,3.1),(11,3.2),(11.4,3.4),(11,2.6),(11.5,2.5),(11.7,2),(11.2,1.9),(11.2,0.8),(12.2,0),(11.9,-0.3),(11.6,-0.5),(12,-0.8),(11.6,-1.2),(11.9,-2),(11.8,-3),(11.3,-3.2),(11.2,-3.8),(11.3,-4.4),(12.1,-3.2),(11.9,-4.5),(11,-5.2),(10.7,-5.4),(10.3,-5.8),(11.1,-5.8),(9.8,-6.9),(10.3,-6.9),(10,-7.3),(9.5,-8),(9.4,-8.3),(9.6,-8.9),(8.9,-9.2),(8.4,-9.6),(7.8,-9.5),(7.1,-9.7),(6.5,-10),(6.8,-10.5),(5.7,-10.6),(5.1,-10.9),(5.7,-11.1),(5.2,-11.8),(3.9,-11.3),(3.7,-11.7),(3.3,-12.1),(3,-12.2),(2.2,-12.3),(1.9,-11.9),(1.3,-11.6),(0.8,-12),(0.4,-12.2),(-0.9,-11.7),(-0.9,-12.3),(-0.5,-12.2),(-2.1,-11.7),(-3.3,-11.1),(-3.9,-11.1),(-4.3,-10.7),(-5.3,-11),(-5.5,-10.1),(-5.4,-9.6),(-5.8,-9.2),(-6.3,-9.2),(-7,-8.5),(-7.3,-9),(-7.9,-8.6),(-8,-8.2),(-8.4,-7.9),(-8.2,-7.3),(-8.9,-7.1),(-9.2,-7.5),(-9,-6.3),(-9.5,-6.1),(-9.2,-5.6),(-10,-5.7),(-9.8,-4.7),(-10.4,-4.6),(-10.6,-4.2),(-9.9,-3.9),(-10.9,-3.6),(-10.8,-3),(-11.1,-2.3),(-11.4,-1.5),(-11.4,-0.9),(-11.2,-0.3),(-11.8,0.5),(-11.2,1.4),(-11.7,2),(-11,2),(-10.8,1.1),(-12.2,2.9),(-11.6,2.8),(-11.5,2.4),(-10.9,2.9),(-10.5,3.3),(-10.7,3.9),(-10.4,5.4),(-9.7,6),(-10.2,6.9),(-10,7.2),(-9.5,7.3),(-9.1,7.6),(-8.8,8),(-8.2,8.4),(-8,8.9),(-7.6,9.3),(-7,9.4),(-6.8,9),(-6.5,9.7),(-6.4,10.4),(-5.6,10.3),(-5.2,10.7),(-4.7,10.3),(-4.7,11)]

d3_e20_dark = [(-4,13.1),(-3.5,13.2),(-3.1,13.2),(-2.4,13.7),(-2.3,13.1),(-1.7,13),(-1.3,13.2),(-0.6,12.9),(0,13.4),(0.4,13.5),(0,12.8),(1.4,13),(2.6,12.8),(3,13.2),(2.7,12.5),(3.5,12.7),(4,12.6),(4.2,12),(4.9,12.3),(6.1,11.1),(6.5,11.3),(7.2,11.3),(7.1,10.8),(7.6,11.2),(8,10.5),(9,9.2),(9.6,9.2),(9.4,8.5),(10.3,8),(10.6,7.7),(10.8,7.4),(10.6,6.6),(11.4,6.4),(10.9,5.4),(11.4,5.1),(11.8,5),(12.2,4.9),(12,4.4),(12.4,3.1),(12.8,2.4),(13,2.1),(13,1.6),(13.5,1.1),(13.2,0.1),(13.1,-0.4),(12.5,-1.8),(13,-1.8),(12.7,-2.3),(12.9,-3.2),(12.2,-3.1),(12.3,-3.9),(12.5,-4.5),(12,-4.9),(11.6,-5.8),(11.1,-6.3),(11.2,-7.5),(10.8,-7.3),(10.9,-8.5),(10.1,-8.8),(9.8,-9.6),(9.5,-9.8),(9.2,-10.2),(8.7,-10.6),(8.2,-10.9),(7.7,-11.2),(7.4,-11),(7.6,-11.8),(6.4,-12.1),(5.4,-12.8),(4.8,-13.3),(4.2,-13.1),(4.6,-13.6),(3.4,-13.2),(2.7,-13.7),(2.3,-14),(1.5,-13.7),(1.4,-14.5),(0.6,-14),(0.2,-14.1),(-0.2,-14.6),(-0.8,-14),(-1.5,-14.5),(-1.9,-14.2),(-2.3,-14),(-2.4,-13.6),(-3.2,-14.2),(-4.1,-13.9),(-4.7,-13.3),(-4.7,-13.9),(-5.2,-13.8),(-5.3,-13.4),(-6,-13.2),(-6.5,-12.9),(-7.1,-12.6),(-8.2,-11.7),(-9,-11.7),(-9.4,-11),(-9.8,-10.8),(-10.2,-9.8),(-10.6,-9.9),(-10.9,-9.1),(-11.5,-8.7),(-11.9,-8.2),(-12.1,-8.5),(-12.6,-7.7),(-12.8,-6.8),(-13.3,-6),(-13.9,-5.6),(-14,-5),(-14.4,-4.4),(-14.5,-3.5),(-13.8,-3.9),(-14.1,-3.4),(-14.7,-1.9),(-14.5,-1.3),(-14.5,-0.9),(-14.8,-0.1),(-14.1,0.2),(-14.6,1.3),(-15,1.6),(-14.6,2),(-14.2,1.5),(-14.2,2.2),(-14.4,3),(-14.2,3.9),(-13.8,3.9),(-13.8,4.6),(-13.1,5.6),(-13,5),(-12.5,6.2),(-12.8,7.2),(-12.2,7.4),(-12.1,7.8),(-11.8,8.3),(-11.2,8.5),(-10.4,9.7),(-10.2,9.5),(-9.5,9.9),(-9,10.7),(-8.9,10.2),(-8.4,10.7),(-7.8,11.4),(-7.7,11),(-6.9,11.6),(-6.4,12.1),(-5.9,12.2),(-5,12.5)]
d3_e20_yellow = [(-3.6,11.4),(-3,11.6),(-2.5,11.7),(-2,11.9),(-1.8,11.2),(-1.5,11.8),(-1,11.7),(-0.2,11.7),(0.1,11.3),(0.9,11.7),(1.3,11.3),(2,11.2),(2.7,11.7),(2.6,10.8),(3.3,11),(3.7,11.2),(3.7,10.3),(5.1,9.6),(5.6,10.3),(5.6,9.5),(6,9.2),(6.6,8.5),(6.4,9),(7.4,9.1),(7.8,8),(8.8,7.2),(9.2,7),(8.4,6.6),(8.9,6.5),(9.4,6),(9.3,5.5),(9.7,4.9),(10.8,4.3),(10.4,3.7),(10.9,3.2),(10.9,2.3),(10.9,1.2),(11.4,1.2),(11.6,0.2),(10.6,0.2),(10.9,-0.3),(11.6,-1.3),(11,-1.3),(10.9,-2),(11,-2.8),(10.5,-3.2),(11.2,-3.1),(11,-4),(10.5,-4.9),(11.3,-5.2),(10.7,-6),(10.4,-6.4),(9.6,-6.9),(9.2,-7.3),(8.5,-7.6),(7.9,-8.4),(8.6,-8.9),(7.4,-8.8),(7.8,-9.9),(6.4,-9.8),(6.5,-10.3),(6.1,-10.9),(5.1,-11.2),(5.4,-11.5),(4.6,-11.3),(3.9,-11.1),(3.7,-11.5),(3.5,-12),(2.6,-12.1),(2,-11.9),(2.3,-12.6),(1,-12.4),(0,-12.4),(-0.4,-12.6),(-1.3,-12.6),(-1.3,-12.2),(-2,-12.5),(-2.2,-13),(-2.6,-12.3),(-2.9,-11.8),(-4.5,-11.5),(-4.6,-12),(-5.2,-11.7),(-5.7,-11.3),(-6.8,-10.7),(-7,-11.3),(-6.3,-10.7),(-7.7,-9.7),(-8.3,-10),(-7.7,-10.5),(-8.7,-9),(-9.4,-9),(-9.8,-8.5),(-9.3,-8.3),(-10.2,-8),(-10.4,-7.3),(-11.1,-6.7),(-11.5,-6.2),(-11.8,-5.2),(-12.5,-5.1),(-11.2,-4.8),(-12.5,-4.4),(-12.8,-3.8),(-11.9,-3.7),(-12.5,-2.8),(-13.2,-2.3),(-12.6,-1.9),(-12.4,-1.4),(-12.8,-0.9),(-12.7,0.8),(-12.4,1.5),(-12.7,2),(-13.1,2.2),(-12.4,2.9),(-12.2,3.4),(-11.8,4.2),(-11.5,4.4),(-12,5),(-11.8,5.6),(-11.2,5.5),(-10.7,5.4),(-10.9,6),(-10.6,6.4),(-10.5,6.9),(-9.8,7.1),(-9.5,7.7),(-10,7.9),(-9.5,8.2),(-8,9.3),(-7.6,9.3),(-7.3,9.5),(-6.9,10.3),(-6.5,10.4),(-6,10),(-5.6,10.9),(-5.2,10.2),(-5,10.9),(-4.9,10.3),(-4.7,10.4)]

d3_e50_dark = [(2.2,12.6),(1.8,12.3),(1.2,12),(0.7,11.7),(0.4,11.4),(3,12.2),(4.3,12.4),(4.4,12),(3.9,11.9),(4.7,11.7),(5.4,12),(5.6,11.5),(6.3,11.4),(-0.5,11),(-0.8,10.6),(-1.3,10.6),(-1.6,10.6),(-2.4,11),(-2.8,10.6),(-3.3,10.3),(-3.7,10),(-4.3,10),(-5.1,9.6),(-5.1,9.2),(-5.9,9.1),(-6.3,8.7),(-6.7,8.5),(-7.2,8),(-7,7.6),(-8.2,7.2),(-8.2,6.8),(-8.4,6.3),(-8.8,5.9),(-8.9,5.7),(-9.9,5.4),(-10,5),(-10.3,4.8),(-12.2,4.2),(-12.1,3.8),(-12.4,3.6),(-12.9,2.9),(-13,2),(-13.2,1.7),(-12.8,1.7),(-12.9,1.2),(-12.3,1.6),(-13,0.9),(-12.6,0.4),(-13.1,0),(-12.9,-0.7),(-13.1,-1.5),(-13,-1.8),(-12.9,-3),(-12.6,-3.3),(-12.3,-3.4),(-12.6,-3.9),(-12.3,-4),(-12.2,-4.8),(-11.9,-5.1),(-11.5,-5.3),(-11.2,-5.4),(-11.2,-6.2),(-11,-6.9),(-10.7,-7.4),(-10.2,-7.2),(-10.3,-7.7),(-9.9,-8.1),(-9.5,-8.4),(-9.2,-9),(-8.7,-9.6),(-8.5,-10),(-8.2,-10.3),(-7.8,-10.8),(-7.3,-10.6),(-6.9,-10.8),(-6,-11.6),(-5.6,-11.9),(-5.1,-12),(-4.3,-12.5),(-3.9,-12.7),(-3.2,-12.5),(-3.3,-12.9),(-2.3,-13),(-1.4,-13),(-0.8,-13.4),(0,-13.2),(0.6,-13.6),(1.3,-13.2),(2,-13),(2.1,-13.5),(2.9,-13),(3.4,-12.9),(3.9,-12.5),(4.8,-12.5),(5,-12.1),(5.7,-12.2),(7,-11.7),(8,-10.9),(8.3,-11),(8,-11.5),(8.6,-10.6),(9,-10.3),(9.6,-10),(10,-9.5),(10.4,-9.5),(10.3,-8.9),(11.1,-8.6),(11.2,-7.9),(11.7,-7.5),(11.6,-6.9),(11.8,-6.3),(12.3,-6.2),(12.8,-5.4),(13,-5),(13,-4.4),(13,-3.8),(13.8,-3.7),(13.3,-3.2),(13.4,-2.4),(13.9,-2.4),(13.7,-1.2),(14,-0.7),(14.2,0.2),(13.8,0.1),(13.7,0.7),(13.5,1.2),(13.2,1.7),(13,2.1),(12.7,3.7),(12.4,3.4),(11.9,4.2),(11.3,4.3),(11,4.7),(12.8,3.9),(10.9,5.5),(10.2,5.8),(9.8,5.6),(10,6.1),(9.3,7.2),(9.1,7.7),(9.3,7.9),(9.2,9.6),(8.8,9.6),(8.6,9.9),(8.7,10.4),(8.1,10.4),(7.4,10.3)]
d3_e50_yellow = [(-0.8,12.9),(-0.5,12.4),(-1,12.2),(-1.6,12.2),(-2,12),(-2.2,11.9),(0.2,12.2),(-4.1,12),(-4,11.5),(-4.8,11.6),(-4.2,11.1),(-5,10.9),(-5.6,10.7),(-6.2,10.6),(-6.6,10.5),(-6.9,10),(-6.6,9.9),(-8.8,8.7),(-9,8.4),(-8.5,8.7),(-9,7.9),(-9.6,7.8),(-9.3,7.4),(-10.3,7.2),(-10.7,6.7),(-10.4,6.5),(-10.9,5.8),(-11.2,5.3),(-10.9,4.8),(-11,3.6),(-11.1,2.9),(-11.5,2.3),(-11.1,1.5),(-11.3,0.8),(-11,-0.6),(-11,-1.2),(-12,-1.9),(-11.6,-1.7),(-11.3,-1.6),(-11.4,-2.4),(-10.8,-2.5),(-10.5,-3.2),(-11,-3.2),(-10.9,-4.3),(-10.4,-4.6),(-10.2,-5),(-10,-6),(-9.5,-6.3),(-9.1,-6.8),(-8.9,-7.4),(-8.5,-7.9),(-8.3,-8.3),(-7.7,-8.2),(-7.5,-8),(-6.9,-9.1),(-6.5,-8.9),(-6.5,-9.6),(-5.6,-10),(-5.6,-10.5),(-5,-10),(-4.6,-10.7),(-4.2,-10.9),(-3.5,-10.9),(-3.5,-11.3),(-2.6,-11),(-2,-11.2),(-1.5,-11.5),(-1.4,-12),(-1.2,-12.3),(0,-11.5),(0.5,-11.8),(0.9,-11.6),(1.7,-11.6),(2.2,-11.6),(2.7,-11.1),(3,-11.8),(3.2,-11.3),(4.4,-10.8),(4.4,-11.2),(4.8,-10.4),(5,-11),(5.5,-10.8),(6,-10.7),(6.7,-10.4),(7,-10),(7,-9.5),(8.5,-9.6),(8.2,-8.6),(8.8,-8.4),(9.1,-8.7),(9.4,-7.6),(9.8,-7.9),(10,-6.9),(10.5,-6.8),(11,-6.3),(11.1,-5.1),(11.6,-5.4),(11.9,-5.4),(11.4,-4.8),(11.2,-3.7),(11.7,-3.6),(12,-4.1),(12,-3.4),(11.7,-2.5),(11.9,-2.1),(12.2,-1.9),(11.6,-1),(12.2,-0.7),(12.6,-0.9),(11.9,-0.5),(12.2,0.2),(11.9,0.4),(12,1.5),(11.9,2),(11.5,2.6),(12.2,2.7),(12.1,3.3),(11.8,3.2),(12.3,5.3),(11.9,6),(11.7,6.3),(11.6,7),(11.1,7),(11.3,7.4),(11.1,6.5),(10.3,7.9),(8.6,8.7),(8.3,8.6),(7.9,8.4),(7.5,9),(7,9.4),(7,9.7),(6.5,9.1),(5.3,9.9),(5.2,10.3),(4.8,10.5),(4.3,10.4),(4.4,10),(3.8,10.7),(3,11),(2.5,11.2),(1.9,11.2),(1.5,11.3),(1.2,11.2)]

# dataset 4 (unlabelled points)
d4_e4 = [(-20.9,8.7),(-19.8,7.8),(-20.4,7.4),(-19.8,7.1),(-21,6.8),(-20.3,6.8),(-20.3,5.9),(-19.3,6),(-16.7,5.7),(-17.2,5.2),(-15.2,5.2),(-15.5,4.8),(-19.5,4.6),(-22.2,4.1),(-20.5,3.9),(-21,3.6),(-20.5,3.5),(-19.3,3.4),(-17.2,3.2),(-22.8,3.1),(-20,2.9),(-22,2.7),(-18.2,2.4),(-23.2,2.3),(-21.7,1.4),(-22.4,1.3),(-23,1.2),(-21.5,0.5),(-24.3,0.1),(-25.4,-0.3),(-24.6,-0.8),(-22.8,-0.7),(-20.1,-0.6),(-17.6,-0.4),(-15.4,-0.2),(-18.7,-1),(-15.7,-1),(-25.5,-1.2),(-26.5,-1.4),(-25.5,-1.6),(-25,-1.3),(-24,-1.6),(-25,-2),(-21.8,-1.6),(-21,-1.6),(-18.6,-1.9),(-17,-1.6),(-15.4,-1.8),(-25.5,-2.7),(-24,-2.6),(-18,-2.5),(-17.3,-2.2),(-16.5,-2.1),(-15.4,-2.4),(-19.3,-3.1),(-16.2,-3.1),(-17,-3.5),(-21.5,-3.9),(-20.5,-4.2),(-18.2,-4.4),(-16,-4.8),(-19.5,-5),(-18,-5.2),(-17,-5.2),(-15.9,-5.8),(-16.6,-6),(-17.2,-6.1),(-17.8,-6.2),(-9.8,6.6),(-10.7,6.2),(-9,6.1),(-9.8,5.5),(-8.3,5.5),(-9.3,5),(-8.5,4.2),(-9.7,2.3),(-8.6,2),(-8.8,1.4),(-10.5,1),(-11,0.5),(-10.1,0.2),(-10.6,0.4),(-9.5,0.5),(-6.6,0.4),(-7.2,0.2),(-11.7,-0.2),(-10.6,-0.6),(-7.2,-0.7),(-8.7,-1.2),(-9.3,-1.7),(-8.3,-2.1),(-5.3,7.8),(-4.5,7.7),(-3.6,8),(-3.3,7.3),(-6,6.6),(-5,6.7),(-3.8,6.6),(-4.9,6),(-5.7,5.5),(-5,5.3),(-3.6,5.4),(-4.4,5),(-5.7,4.3),(-5,4.2),(-4,4.2),(-1.7,6.4),(-1.8,3.8),(-4.6,2.9),(-2.6,3),(-0.4,3),(0.3,2.8),(-3.6,2.3),(-3.8,1.1),(-0.4,0.9),(-2,0.1),(-1,-0.4),(-1.4,-0.8),(-0.6,-1.3),(-2.7,-1.1),(-1.7,-1.7),(-0.4,8.3),(0.9,7.9),(2.3,7.5),(3,8.3),(3.8,8.1),(4.6,8.1),(3.7,7),(2.4,6.4),(2.9,5.8),(5.8,7.2),(7,7.2),(7.5,9.9),(8.2,10.3),(9,10.4),(8,9.7),(7.7,9.4),(9,9.6),(10,7.5),(10.7,7.4),(10,6.6),(10,5.5),(11.7,5.8),(7.5,5.3),(8.7,4.8),(7.5,4.4),(10.7,4.8),(4.9,4.7),(3.7,4),(4.5,3.6),(3.4,3.2),(11.9,4.1),(7.9,3.6),(9.2,3.4),(10.6,3.5),(11.7,3),(6.1,2.9),(3.2,2.5),(8,0.8),(9,0.8),(10,0.7),(10.7,0.4),(11.8,0.3),(12.8,0.5),(13.7,0.9),(14.1,0.3),(13.3,1.7),(14.4,1.5),(15,2.1),(9,0),(8.3,-0.7),(6.6,-1.3),(8.7,-1.2),(9.8,-1.2),(7,-2),(9,-1.9),(8.1,-2.8),(9.8,-3.8),(10,-4.3),(9.8,-4.5),(14.2,-3.3),(14.8,-2.7),(15.2,-2.4),(16,-1.8),(16,6.6),(15,6.2),(15.5,6.1),(17.3,6.6),(16,5.8),(17,5.8),(18,5.9),(18.8,5.7),(17.2,5.2),(18.2,5.1),(17.9,4.3),(19.3,2.4),(19,1.6),(20.2,1.5),(20.9,0.7),(18.7,0.2),(22.6,0),(22,-0.4),(17.9,-0.7),(19.7,-1),(17.5,-1.2),(24,-1),(23.5,-1.4),(24.7,-1.5),(18.1,-1.7),(21.2,-2),(23.7,-2.2),(17.7,-2.5),(19.2,-2.4),(20,-2.5),(20.5,-2.9),(21,-3.1),(22.3,-2.6),(14.7,-4),(16.3,-3.8),(17.3,-4.1),(19,-4.1),(21.2,-3.9),(21.8,-4),(22.4,-4.1),(14.5,-5),(16.8,-5),(20.2,-5),(22.3,-5),(17.7,-5.6),(14.9,-5.8),(15.9,-5.9),(18.8,-5.8),(20.2,-6.1),(21.7,-5.9),(16.8,-6.5),(17.6,-6.9),(15,-7.3),(15.8,-7.2),(14.8,-8.4),(17,-8.3),(18,-8),(15.6,-8.9),(14,-9.9),(15,-10),(15.7,-9.7),(16.3,-10),(-10.5,-6.8),(-9.7,-7.3),(-8.2,-7),(-6.6,-5.8),(-6.2,-6.7),(-4.6,-6.5),(-7.2,-7.5),(-6.5,-7.8),(-5.2,-7.3),(-4.8,-7.6),(-6.5,-8.1),(-5.4,-8.5),(-6.5,-9),(0,-4.8),(0.3,-4.6),(-2.2,-5.2),(-3,-3.1),(-2.7,-3.5),(-1,-3.1),(0.2,-3.2),(3.5,-3.1),(3.9,-3.8),(3.1,-4.2),(1.2,-5.2),(2,-5.4),(3.6,-5.4),(3,-5.8),(0,-5.9),(1.8,-6),(2.4,-6.3),(3,-6.6),(4.6,-6.5),(6.1,-6.7),(4.1,-7.6),(3.2,-8.3),(4.7,-8.3),(6.3,-8),(7.2,-8),(8.2,-7.9),(9,-8.3),(9.8,-7.9),(11,-8.4),(11.9,-7.9),(12.6,-8.6),(6.1,-9.2),(7.2,-8.9),(8.6,-9.2),(10.2,-9),(-0.9,-8.8),(0.3,-8.9),(1.4,-8.7),(3.1,-9.2),(2,-9.5),(-1.7,-9.7),(-0.2,-9.7),(-2.2,-10.1),(-1,-10.1),(0.2,-10.2),(1.2,-10.1),(2,-9.9),(2.8,-10),(4,-9.8),(-1.7,-10.7)]
d4_e12 = [(-20,5.1),(-19.6,5.4),(-19.2,5.5),(-17.8,7.2),(-16.6,7.6),(-16,7.5),(-17.8,6.1),(-17.8,5.3),(-16.7,6.1),(-16.5,5.6),(-15.5,5.8),(-16,4.8),(-16.9,4),(-17.3,3.6),(-14.3,4.2),(-12.5,6.2),(-12.8,5),(-12,4.9),(-11.5,4.7),(-11,4.5),(-12.4,4),(-9.8,4.3),(-8.7,5.4),(-14.7,3),(-15.6,2.4),(-13.5,2.5),(-12.9,2.6),(-12,2.1),(-11.5,1.8),(-11,1.9),(-14.9,1.7),(-13.3,1.4),(-11.6,1.4),(-17.8,2.4),(-18.3,1.2),(-17.8,1.4),(-17.4,1.1),(-18,0.5),(-18,0),(-17.5,-0.5),(-14,-0.7),(-14.3,-1.5),(-13.7,-1.5),(-14.5,-2.1),(-13.9,-2.6),(-15,-2.6),(-14.5,-3),(-15.6,-3.5),(-15,-3.6),(-14.3,-3.7),(-9.2,0.1),(-8.2,0.1),(-9.3,-0.5),(-8.7,-0.7),(-10,-1),(-10.2,-1.3),(-10.8,-2.6),(-11.3,-3.3),(-11.4,-4.3),(-10.8,-4.9),(-9.5,-5.5),(-9,-5.1),(-7.6,-5.6),(-7,-5.3),(-7.4,-5.9),(-7.2,-6),(-12.6,-6.4),(-11.6,-7.1),(-12.9,-7.4),(-9.8,-6.9),(-8.6,-6.8),(-12.9,-8.1),(-12,-8.2),(-11,-8),(-10.2,-7.9),(-9,-8.1),(-8,-8),(-7.2,-8.1),(-11.8,-9.1),(-6.9,-9.1),(-13.3,-9.5),(-10,-9.5),(-8.5,-9.4),(-8,-10),(-13.5,-10.5),(-10.9,-10.4),(-9.1,-10.4),(-13.3,-11),(-11.6,-10.9),(-10.8,-11),(-10,-11.4),(-13.2,-11.8),(-12.4,-12.1),(-9,-12),(-7.5,-11.6),(-8.2,-12),(-7.5,-12.4),(-9.5,-12.5),(-10,-12.7),(-11.5,-12.7),(-10.5,-13.1),(-8.7,-13),(-8.5,-13.8),(-7,-13.2),(-6.5,-13),(-6.1,-12.8),(-7.4,-14.1),(-6.5,-13.8),(-6,-14.1),(-5.2,-14.1),(-4.5,-13.1),(-4,-12.3),(-3.5,-12.5),(-2.5,-12.8),(-2.7,-11.7),(-1.8,-11.5),(-1.4,-11),(-1,-12.2),(-1,-11.4),(-0.8,-10.8),(-0.8,-10.2),(0.5,-10.9),(-0.8,-9),(0.1,-8.2),(1,-8.7),(0.8,-9.5),(1.5,-9),(2.3,-9.6),(2.1,-10.4),(3,-10),(3.1,-8.4),(4.2,-8.3),(4.4,-7.9),(3.8,-9.3),(4.8,-9.4),(5.3,-9),(5.5,-7.3),(6.6,-7.7),(7.2,-7.7),(7,-8.4),(1,-7.3),(-0.6,-4.9),(-0.6,-5.5),(0.1,-5.6),(2,-5.7),(0.3,-6.7),(1,-6.6),(1.5,-6.4),(3.5,-4.8),(2.7,-4.8),(3.5,-5.9),(5.7,-5.2),(8.7,-5.5),(9,-5),(9.3,-5),(2.8,-3.6),(3.9,-3.5),(5.1,-3.7),(5.6,-3.3),(2.7,-2.2),(4.3,-2.2),(3,-1.5),(3.7,-1.5),(5.3,-1.7),(4.5,-0.8),(3,-0.4),(6.3,-0.3),(2.3,0.8),(2.9,0.9),(6.9,1.1),(6,0.7),(4.6,1.2),(4.3,1.7),(4.5,3.5),(6.1,3.3),(7.4,3.1),(8.3,3.2),(6.2,2.4),(7.2,2.5),(7.8,2.2),(7,4.5),(6.4,4.7),(7.5,4.4),(8,4.1),(8.6,4.1),(6,4.8),(6.4,5.3),(7.4,5.3),(2.5,8.6),(3.2,8.9),(3.8,8.2),(5.3,9.8),(5.4,8.7),(6.2,8.7),(6.7,8.4),(7.2,8.5),(6.7,8),(7.5,7.9),(8.1,7.7),(1.9,7.8),(2.5,7.5),(3,7.3),(3,6.6),(3.1,6.3),(1.5,7),(0.6,6.6),(0.7,6.2),(0,5.9),(-2.2,7.1),(-1.3,7.2),(-1,6.6),(-4,8),(-6.5,7.6),(-7,7),(-6,7.4),(-5.2,6.9),(-4.6,6.9),(-7.7,6.7),(-6.7,6.4),(-5.3,6.2),(-6.8,4.9),(-5.2,4.8),(-6,4.4),(-5.5,4.3),(-4.5,4),(-4.2,3.5),(-3.8,2.5),(-2.3,2.2),(-1.5,2.9),(-3.3,1.7),(-3.2,1.3),(-2.5,1.3),(-1.7,1.2),(-1,1.4),(-0.5,1.8),(-2.8,0.5),(-2,0.4),(-1.5,0.1),(13.4,2.6),(14,2.5),(14.3,2.1),(16.4,1.9),(17.5,1.5),(14.3,1),(15,0.8),(17.4,0.2),(18,-0.2),(17,-0.6),(18,-1.1),(19,-1.5),(20.4,-0.9),(20.5,0),(22.3,-0.4),(24,-0.2),(23.5,-0.6),(23.8,-1.2),(24.5,-1.2),(25.2,-1.2),(15.8,-1.2),(15.2,-2),(16.2,-2.1),(22,-1.6),(23,-1.5),(24,-1.8),(15,-2.4),(15.5,-2.6),(16,-2.9),(15.3,-3),(18.1,-2.4),(19.1,-2.4),(20,-2.3),(23.3,-2.7),(24.8,-2.8),(14.3,-3.8),(19,5.6),(19.2,6),(20.2,5.6),(21.5,6.4),(22.2,6.6),(23,6.3),(23.3,5.8),(22.3,5),(21.8,4.7),(17.5,4.6),(18.3,4.9),(19.2,4.6),(20,4.5),(20.7,4.4),(20,4),(23.3,4.1),(19,3.3),(21,3.5),(21.5,3.2),(23.1,3.2),(20,2.7),(23.7,2.4),(20.3,1.6),(21.8,1.5),(22.3,0.9)]
d4_e20 = [(2.4,23),(1,22.4),(1.7,22),(3,21.9),(1.5,21.5),(2,21.2),(0.5,21.2),(1.2,21),(2.5,20.7),(1.8,19.6),(3.2,19.5),(4.7,19.4),(5.3,18.7),(3.5,18.3),(2.4,18.2),(4.5,18),(6,17.7),(0.5,18.4),(0.6,19),(-1.6,19.3),(-2,18.7),(-3,17.9),(1.1,17.3),(-1.4,17.3),(-4.6,16.2),(-3.8,16.4),(-3,16.3),(-1.4,16.4),(-0.8,16.4),(0.3,16.3),(4.2,16.5),(4.9,16.5),(5,17.2),(-4.3,15.4),(-3.5,15.6),(-2.3,15.4),(-1.5,15.8),(-0.9,15),(0.5,15.2),(3,15.2),(4.5,15.8),(5.4,15.5),(6.9,15),(7,15.7),(7.5,15),(8,14.8),(8.2,15.7),(8.5,15),(-4.2,14.9),(-3.7,14.5),(-2.3,14.7),(-1.7,14.5),(-1,14.7),(7.5,14.4),(8,14.3),(3.1,14.2),(9.2,14),(-2,13.4),(-1.5,13.6),(-0.7,13.7),(0.3,13.3),(5,13.8),(5.1,13),(4.1,13),(3.8,12.6),(3.9,12.1),(-5.3,11.5),(-5.6,10.6),(-5,7.5),(-4.4,7.5),(-4.7,6.8),(-4.9,6.2),(-5,5.7),(-3.4,5.9),(-3.1,5.3),(-2.5,5.2),(-4,4.8),(-3.2,4.5),(-1.5,4.5),(-3.2,3.9),(-1.7,3.7),(-0.8,3.6),(-7,5),(-8.6,4),(-8,3.7),(-4.4,3),(-6.4,2.8),(-5.6,2.4),(-1.8,3),(-1.8,2.1),(-0.7,2.2),(0.6,2.3),(-7.6,2.2),(-5,2),(-7,1.5),(-4,1.7),(-3,1.5),(-2.8,1.7),(-1.8,1),(0.5,1),(1.4,1.7),(2.6,1.6),(1.2,1),(2,1),(2.7,0.6),(4,1),(-3.4,1),(-2.9,0.6),(-0.5,0.4),(3.2,0),(4.3,0.2),(4.6,-0.2),(5.6,0),(4.8,-0.6),(-3.8,0),(-3.4,-0.5),(-3.5,-1.1),(-10,2.2),(-9.2,2.1),(-10.2,1.3),(-9.7,1),(-9,1.2),(-8.5,0.7),(-9.4,0.1),(-12,2.1),(-12.5,1.3),(-11.9,0.2),(-11.9,-0.7),(-13.3,1.7),(-14.7,1.3),(-15,0.6),(-14,0.4),(-16.1,0.8),(-15.5,0.2),(-14.6,0),(-16.3,0.2),(-15.5,-0.5),(-14.8,-0.6),(-16.5,-1.3),(-15.8,-1.2),(-15.2,-1.5),(-16,-2),(-15.2,-1.9),(-10.5,-1),(-9.8,-1.4),(-13.4,-2),(-17.3,-4.3),(-17.7,-4.7),(-17,-4.8),(-16.5,-4.9),(-16.8,-5.3),(-16.3,-5.8),(-15.7,-6.3),(-14.3,-6.2),(-14,-6.8),(-13.3,-7.3),(-13.8,-7.2),(-13.3,-6),(-13,-5.3),(-12.8,-5.5),(-12.3,-4.9),(-12.4,-6),(-12,-5.8),(-11.5,-5.5),(-10.8,-5.8),(-10,-6.1),(-10.8,-6.5),(-12.5,-6.7),(-10,-7.6),(-10.2,-8.3),(-9.6,-8.8),(-10,-11.1),(-8.9,-11.2),(-7.8,-3.9),(-6.5,-3.9),(-5.8,-3.2),(-5.5,-4),(-7.6,-5.3),(-6.5,-5.3),(-5.7,-5),(-5,-5.2),(-5.2,-6.3),(-5.3,-7.4),(-5.3,-8),(-5.2,-9),(-4.4,-8.9),(-4.1,-9.9),(-7.3,-10.7),(-6.6,-10.3),(-7.2,-11.6),(-5.6,-11.4),(-6.5,-12.3),(-5.8,-12.6),(-5,-12.7),(-3.5,-12.3),(-2.1,-12.7),(-2.6,-8.7),(-1.4,-9.8),(-1.5,-10.8),(-1.3,-11.2),(-0.5,-10.7),(-1,-10.4),(0.2,-9.5),(0.2,-3.8),(-1.1,-4.4),(-1.5,-5.1),(0.8,-5.5),(1.1,-4.6),(1.6,-5.2),(1,-6.3),(1.8,-6.5),(-0.4,-7.1),(0.9,-7.2),(1.7,-7),(2.2,-6.5),(3.1,-5.9),(2,-2.8),(2.4,-2.7),(2.3,-3.2),(2.3,-9),(1.4,-9.6),(2.4,-10.1),(1.2,-11),(1.7,-11.2),(0.9,-11.5),(2,-11.7),(0.8,-12.5),(1.2,-13.2),(1,-13.4),(4.5,-12.9),(5.3,-12),(6.2,-12.1),(5.2,-13),(5.6,-12.5),(6.5,-12.5),(7.7,-11.4),(8.6,-10.9),(10,-10.6),(11.3,-10),(8.1,-14.2),(8.7,-14),(9,-14.7),(9.5,-14),(10,-14.3),(10.2,-13.2),(10.7,-13.7),(11,-13.2),(11.7,-12.9),(11.2,-14),(6.8,0.9),(7.6,0.8),(8.6,0.7),(8.2,0.2),(8,-0.4),(6.9,-0.7),(7,-1.6),(8,-1.9),(9,-1),(9.6,-1.5),(7.3,-2.9),(8.5,-3),(9.2,-2.6),(9.6,-2.6),(6.5,-3.7),(8.2,-3.6),(9,-3.7),(6.4,-4.4),(8.8,-4.4),(6,-5.3),(6.6,-5.5),(8,-5),(9,-5),(10.4,-4),(10.3,-5.4),(12.1,-4.2),(11.9,-5),(13.2,-4.6),(13.5,-5.3),(6.8,-6),(7.4,-7),(12.4,-6),(13.3,-6),(9,-6.5),(9.3,-7),(10,-7),(11.2,-7),(11.9,-6.9),(13,-7.3),(8.7,-7.5),(8.8,-8.2),(10.2,-8.2),(14,-8),(14.7,-7.5),(15.3,-8),(14.5,-8.5),(9.1,-9.2),(12,-9.1),(12.7,-9.5),(12.4,0),(12.2,-0.7),(13,-0.7),(12.5,-1.3),(13.3,-1),(13.7,-1.6)]
d4_e50 = [(-4.3,21.3),(-4.9,20.6),(-4.2,20.7),(-3.7,20.6),(-4.5,20),(-4,19.8),(-4.8,19.5),(-4.2,19.4),(-5,18.7),(-5.2,18.3),(-5.5,18),(-6.4,17.9),(-7.6,18.3),(-7.7,17.6),(-2.3,17.6),(-1.8,17.8),(-1.2,18),(-1,18.3),(-2.5,17.1),(-1.7,17.2),(-1,17),(-0.5,17.2),(0,17.6),(-2.5,16.8),(0.2,16.7),(2.2,16.1),(2.7,16.1),(3.7,15.1),(1.4,15),(2.2,15.1),(1.8,14.4),(1.4,13.9),(2,14),(0.4,13.8),(-2.5,13.8),(-2.5,13.3),(-2.6,12.7),(0.2,12.8),(1.1,12.8),(2.9,12.9),(3.5,13),(3.1,12.4),(-1.8,12.5),(-1.5,12.5),(-2.6,11.8),(-1.7,11.8),(2,12),(2.9,11.7),(3,11.5),(-1.5,11.2),(-0.6,10.6),(0,10.6),(0.7,10.1),(1.6,9.7),(3,10),(-0.6,9),(0.5,9),(0.8,8.6),(-0.5,8.2),(0,8.1),(-2.8,7.8),(-2.5,7.6),(-2.2,7.7),(-0.5,7),(0.5,6.7),(1.2,7),(-9.9,16.4),(-8.8,16.5),(-8.7,15.7),(-8,15),(-7,15.9),(-5.7,16.3),(-10.7,15.4),(-11.2,15),(-10.2,15.3),(-9.5,15.7),(-7.5,14.9),(-6.8,14.7),(-6.2,15.3),(-5.8,15),(-6.3,14.5),(-7,14),(-11.9,14.3),(-10.5,14.1),(-8.8,13.8),(-11,13.4),(-10,12.9),(-5.7,13.3),(-8,12.9),(-7.3,12.3),(-8.4,12.2),(-8.7,11.8),(-9.2,11.9),(-5.7,12.2),(-5.7,11.5),(-11.1,11.4),(-10,11.4),(-9,11.3),(-8.5,11.3),(-8.8,10.8),(-6.5,11.1),(-5.9,10.9),(-7,10.8),(-10.9,10.6),(-9,10.2),(-8.5,10.1),(-8,10.2),(-6.9,10.2),(-11.7,9.2),(-11,9.2),(-10.5,9.4),(-9.4,8.8),(-8.6,9.3),(-10.8,8.3),(-10.3,7.5),(-8.7,7.5),(-7.7,7.5),(-7.6,6.7),(-6.8,6.3),(-7.7,5.9),(-7,5.5),(-6.2,5.4),(-7,4.9),(-6.3,4.8),(-5.7,4.5),(-6.3,3.6),(-6,3.9),(-5,3.6),(-6.6,2.6),(-5.2,2.3),(-3.8,2.6),(-3.1,2),(-5,1.4),(-4.5,1.5),(-6.2,1.4),(-3.8,1.5),(-2.5,1.1),(-2.2,1),(-1.6,0.8),(-3.2,0.2),(-2.5,0),(-2,-0.2),(-1.5,0),(-1.2,-0.3),(-0.8,-0.6),(-0.2,-0.4),(0,-1),(-0.5,-1),(-1.5,-1.1),(-7.7,-0.4),(-7.5,-0.3),(-6.7,-0.7),(-6.3,-0.3),(-5.5,-0.3),(-5.5,-0.8),(-5.2,-1.6),(-4,-1.7),(-4.5,-2.6),(-3.8,-2.7),(-1.3,-2.9),(-4.4,-3.7),(-3.5,-3.9),(-1.8,-3.9),(-1.4,-4.3),(-4.5,-5.1),(-3.5,-5.6),(-2.9,-5),(-2,-5.6),(-4.4,-6.7),(-2.9,-6.4),(-1,-7),(-5,-7.6),(-4.6,-8),(-1.7,-7.9),(-2.7,-8.2),(-3.5,-8.8),(-0.6,-8.4),(-3.8,-10.6),(-1.7,-9.5),(-1,-9.5),(-0.3,-9.6),(-2.3,-10.2),(-1.3,-10.2),(-0.5,-10.2),(-1.7,-10.8),(-0.8,-10.8),(-0.3,-10.6),(-2.3,-11.2),(-1.4,-11.3),(-0.5,-11.4),(-2.9,-12),(-2.3,-12),(-1.7,-12.3),(-2,-12.4),(-2.5,-12),(-10.7,-3.9),(-11.3,-4.8),(-10.7,-4.8),(-9.7,-4.8),(-9,-4.6),(-11.2,-5.8),(-10.5,-5.5),(-9.5,-5.9),(-9.1,-5.9),(-10.6,-6.5),(-10.6,-7),(-10,-8),(-9.8,-8.7),(-10,-9.5),(-9.4,-9.3),(-9.8,-10.5),(-8.3,-11.2),(-7.8,-11.5),(-9,-12.3),(-8.5,-12),(-7.7,-12.3),(-9.5,-12.8),(-8.8,-13.3),(-8,-13.3),(-7.7,-13),(-6.4,-13),(-6.5,-10.3),(-6.7,-11),(-6.9,-11.1),(-5,-13.6),(-0.7,-13.9),(0.5,-13.5),(-1,-14.3),(-0.5,-14.5),(0,-14.3),(-1,-15),(-0.3,-15.2),(0,-15),(2,-13),(2.3,-12.8),(2.1,-13.6),(3.3,-13),(3.7,-12.5),(4.2,-12),(4.7,-12.4),(5,-12),(4,-13.3),(4.4,-14),(4.8,-14),(4.3,-14.6),(9.5,1.8),(10.4,1.5),(9.3,1.2),(9.7,1),(10.5,0),(10,-1.4),(10.7,-1.3),(11.4,-1.7),(10.1,-2),(10.5,-2),(11,-2),(10.5,-2.5),(11.5,-2.5),(10.5,-3),(11.1,-4),(11.6,-5.2),(12.2,-4.6),(12.5,-5.2),(13,-4.5),(13.4,-3.6),(14.2,-4.2),(13.8,-4.9),(15,-4.7),(15.2,-5.7),(14.3,-5.8),(7.8,-6.3),(8.2,-6.4),(8.6,-6.1),(8.8,-5),(9.5,-5),(9.9,-6.6),(10.9,-6.5),(14.3,-6.9),(16.3,-6.3),(17.5,-6),(18.7,-6.7),(17,-7),(17.5,-7),(18.1,-7),(16.5,-7.7),(17,-7.6),(17.7,-7.7),(18.2,-8),(17,-8.7),(15.4,-7.5),(14.9,-8.6),(14.3,-8.8),(13.3,-8.3),(11,-9.1),(12.4,-9),(12.2,-9.7),(9,-9.7),(9.7,-10),(10.9,-10.2),(11.4,-10.2),(12.3,-10.5),(11.5,-10.8),(12,-11),(13.4,-10.3),(9.8,-10.8),(10,-11.4),(11,-11.4),(11.8,-11.5),(15.5,-10.3),(14.7,-10.9),(14.2,-11.8),(13,-11.8),(13,-12.5),(13.4,-12.7),(11.3,-12.8),(12,-13.3),(12.8,-13.2),(13.3,-13.2),(9.2,-14.7),(9.7,-14.4),(9.9,-14.1)]

# axis limits per panel
limits = [
    [(-19.9, 23.75, -16.0, 20.1), (-19.6, 23.1, -19.5, 18.2), (-23.4, 21.25, -17.0, 18.96), (-22.1, 18.5, -18.2, 17.28)],
    [(-25.4, 23.6, -16.1, 18.0), (-21.9, 23.5, -16.4, 16.3), (-20.9, 22.6, -15.0, 16.97), (-13.4, 15.85, -20.2, 24.07)],
    [(-15.4, 15.3, -14.96, 15.95), (-14.5, 15.25, -15.3, 14.9), (-16.1, 14.9, -16.0, 15.0), (-14.5, 15.66, -14.95, 14.0)],
    [(-28.9, 27.0, -11.73, 11.53), (-22.26, 27.03, -15.17, 11.05), (-19.04, 16.73, -16.45, 24.7), (-13.24, 20.18, -17.17, 23.17)],
]

two_class = [
    [(d1_e4_dark, d1_e4_yellow), (d1_e12_dark, d1_e12_yellow), (d1_e20_dark, d1_e20_yellow), (d1_e50_dark, d1_e50_yellow)],
    [(d2_e4_dark, d2_e4_yellow), (d2_e12_dark, d2_e12_yellow), (d2_e20_dark, d2_e20_yellow), (d2_e50_dark, d2_e50_yellow)],
    [(d3_e4_dark, d3_e4_yellow), (d3_e12_dark, d3_e12_yellow), (d3_e20_dark, d3_e20_yellow), (d3_e50_dark, d3_e50_yellow)],
]
unlabelled = [d4_e4, d4_e12, d4_e20, d4_e50]

W = 1489.0
lefts = [49.3, 420.3, 791.3, 1162.7]
tops = [31.7, 403.0, 774.3, 1145.0]
width = 310.0
height = 310.0

fig = plt.figure(figsize=(14.89, 14.89), dpi=100)
for r in range(4):
    for c in range(4):
        ax = fig.add_axes([lefts[c] / W, 1 - (tops[r] + height) / W, width / W, height / W])
        if r < 3:
            cluster_a, cluster_b = two_class[r][c]
            ax.scatter(*zip(*cluster_b), color=yellow)
            ax.scatter(*zip(*cluster_a), color=dark)
        else:
            ax.scatter(*zip(*unlabelled[c]), color="#1f77b4")
        x0, x1, y0, y1 = limits[r][c]
        ax.set_xlim(x0, x1)
        ax.set_ylim(y0, y1)
        ax.set_title(f"Dataset {r + 1}, Early Exaggeration {exaggerations[c]}")

fig.savefig("out.png", dpi=100)
